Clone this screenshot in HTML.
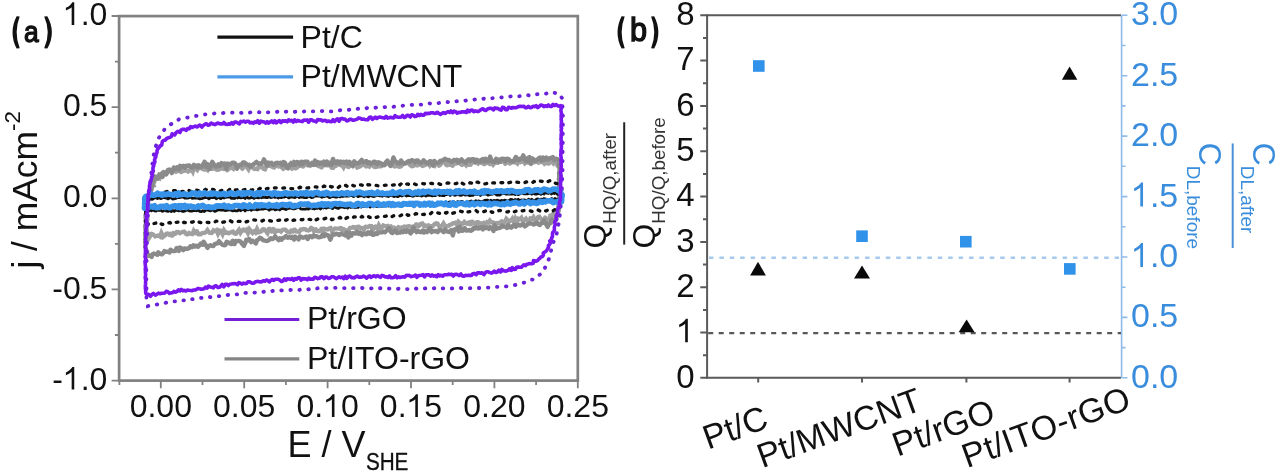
<!DOCTYPE html>
<html><head><meta charset="utf-8"><style>
html,body{margin:0;padding:0;background:#fff;}
svg{display:block;}
text{font-family:"Liberation Sans",sans-serif;fill:#111;}
.blue text{fill:#3a8ddc;}
.one{fill-opacity:0;}
</style></head><body>
<svg width="1280" height="472" viewBox="0 0 1280 472">
<defs><filter id="bl" x="-1%" y="-1%" width="102%" height="102%" color-interpolation-filters="sRGB"><feGaussianBlur stdDeviation="0.55"/></filter></defs>
<rect x="0" y="0" width="1280" height="472" fill="#fff"/>
<g filter="url(#bl)">
<!-- ===== Panel (a) ===== -->
<g id="curves">
<path d="M146.8,215.0 L146.6,213.5 L147.4,212.0 L146.7,210.5 L147.4,209.0 L147.3,207.5 L147.0,206.0 L147.7,204.5 L147.2,203.0 L147.8,201.5 L147.3,199.9 L147.6,198.3 L148.6,197.0 L149.7,195.7 L148.8,193.8 L149.4,192.4 L150.5,191.1 L151.5,189.7 L151.2,188.1 L151.5,186.5 L153.5,185.7 L152.1,183.2 L154.7,182.7 L154.1,180.6 L154.5,179.0 L155.1,177.0 L157.1,176.7 L159.3,178.0 L159.7,175.0 L161.7,175.9 L163.2,175.5 L164.2,173.9 L165.9,174.0 L166.5,171.5 L167.9,170.9 L169.7,170.8 L171.6,172.6 L173.0,171.3 L174.4,170.7 L176.0,171.7 L177.5,170.9 L178.9,170.1 L180.6,172.1 L182.1,171.5 L183.4,169.3 L185.0,170.6 L186.5,170.2 L188.2,171.5 L189.6,170.7 L190.9,168.6 L192.7,171.5 L193.8,167.5 L195.5,168.7 L197.1,170.0 L198.3,167.2 L200.0,168.5 L201.5,166.4 L203.0,169.2 L204.6,169.6 L206.1,168.7 L207.6,170.0 L209.1,167.5 L210.6,169.2 L212.1,168.7 L213.6,168.6 L215.1,168.0 L216.7,169.7 L218.2,170.1 L219.6,168.0 L221.2,168.8 L222.6,166.1 L224.2,168.9 L225.7,168.7 L227.3,170.1 L228.7,169.4 L230.2,167.0 L231.7,167.4 L233.3,168.6 L234.7,165.7 L236.3,167.6 L237.8,166.3 L239.3,166.1 L240.8,165.8 L242.3,168.9 L243.8,166.0 L245.3,166.5 L246.9,167.1 L248.4,169.2 L249.8,165.7 L251.4,167.3 L252.9,167.7 L254.5,169.1 L256.0,168.8 L257.5,169.0 L258.9,166.4 L260.5,167.0 L262.0,166.7 L263.5,169.0 L265.0,169.3 L266.5,165.7 L268.0,165.8 L269.5,166.0 L271.0,166.0 L272.6,167.0 L274.1,167.5 L275.6,166.0 L277.1,164.8 L278.6,166.6 L280.1,166.4 L281.6,167.2 L283.2,168.9 L284.7,167.7 L286.2,166.9 L287.7,167.3 L289.2,167.6 L290.7,164.8 L292.2,168.5 L293.7,167.9 L295.3,168.3 L296.8,167.9 L298.2,166.1 L299.8,166.1 L301.2,164.8 L302.8,167.1 L304.3,164.6 L305.8,164.6 L307.3,165.2 L308.8,164.9 L310.3,165.7 L311.8,164.4 L313.3,164.1 L314.9,164.8 L316.4,164.5 L317.9,165.6 L319.4,164.1 L321.0,167.8 L322.5,166.6 L323.9,164.6 L325.4,165.0 L327.0,165.4 L328.5,165.4 L330.0,164.3 L331.5,167.5 L333.1,168.1 L334.5,165.8 L336.0,165.8 L337.5,164.0 L339.0,164.1 L340.6,165.1 L342.1,164.7 L343.6,167.2 L345.1,164.2 L346.6,163.6 L348.2,167.6 L349.7,165.7 L351.1,164.0 L352.7,165.7 L354.1,163.4 L355.7,165.6 L357.3,167.6 L358.8,167.0 L360.3,166.3 L361.7,164.3 L363.3,164.8 L364.7,163.9 L366.3,166.5 L367.8,165.4 L369.3,166.5 L370.8,164.4 L372.3,163.9 L373.9,166.5 L375.4,167.2 L376.9,166.6 L378.4,166.4 L379.9,166.4 L381.4,166.0 L382.9,163.8 L384.4,165.0 L385.9,164.3 L387.4,162.8 L388.9,162.8 L390.5,163.8 L392.0,163.7 L393.5,165.6 L395.1,166.7 L396.5,164.5 L398.1,166.6 L399.6,166.8 L401.1,166.6 L402.6,164.0 L404.1,163.3 L405.6,163.3 L407.1,163.1 L408.6,163.2 L410.1,165.0 L411.7,166.2 L413.2,165.9 L414.7,164.2 L416.2,165.0 L417.7,165.6 L419.2,162.4 L420.7,164.9 L422.3,166.0 L423.8,165.4 L425.3,165.2 L426.8,164.0 L428.2,162.7 L429.8,165.3 L431.3,163.3 L432.8,165.3 L434.4,166.0 L435.8,163.5 L437.3,163.5 L438.9,165.8 L440.4,164.8 L441.9,162.3 L443.4,162.1 L444.9,162.2 L446.5,165.5 L448.0,165.0 L449.4,162.1 L451.0,165.1 L452.5,165.7 L454.0,164.3 L455.5,162.9 L457.0,163.7 L458.5,161.8 L460.0,161.3 L461.6,165.5 L463.0,164.0 L464.5,163.5 L466.1,165.2 L467.5,163.0 L469.1,164.9 L470.6,164.7 L472.1,161.9 L473.6,162.1 L475.1,162.2 L476.6,162.0 L478.1,163.4 L479.6,162.0 L481.1,162.7 L482.6,161.4 L484.2,164.7 L485.6,162.3 L487.2,162.7 L488.7,163.2 L490.2,164.6 L491.7,162.4 L493.2,164.6 L494.7,162.7 L496.2,162.8 L497.7,162.8 L499.2,160.5 L500.7,162.3 L502.2,161.2 L503.7,160.4 L505.3,163.8 L506.7,161.0 L508.3,162.3 L509.8,163.4 L511.3,162.6 L512.8,161.6 L514.3,162.4 L515.8,162.5 L517.3,163.5 L518.8,160.5 L520.3,162.5 L521.8,161.1 L523.3,161.2 L524.9,163.3 L526.4,162.1 L527.9,162.3 L529.4,163.2 L530.9,163.8 L532.4,161.7 L533.9,162.4 L535.4,161.9 L536.9,161.9 L538.4,162.7 L539.9,161.6 L541.4,161.9 L542.9,161.6 L544.5,163.7 L546.0,162.6 L547.5,163.3 L549.0,163.6 L550.5,160.5 L552.0,161.8 L553.5,163.5 L554.3,162.7 L556.7,162.4 L557.6,163.8 L557.6,165.7 L559.4,166.6 L559.8,168.2 L560.8,169.8 L559.8,171.5 L559.7,173.0 L559.5,174.5 L560.3,176.0 L559.7,177.5 L559.8,179.0 L560.3,180.5 L559.5,182.0 L559.4,183.5 L560.2,185.0 L559.4,186.5 L560.0,188.0 L559.9,189.5 L559.3,191.0 L559.5,192.5 L560.2,194.0 L559.9,195.5 L559.8,197.0 L560.0,198.5 L560.2,200.0 L559.8,201.6 L558.8,203.0 L559.7,204.8 L558.5,206.2 L558.3,207.8 L558.8,209.5 L557.9,210.9 L557.1,212.4 L557.0,214.0 L556.5,216.3 L553.2,213.9 L552.2,215.4 L550.5,215.6 L550.5,219.6 L548.6,219.1 L547.1,220.2 L545.4,217.1 L544.1,219.4 L542.6,220.1 L541.0,218.9 L539.4,216.9 L537.9,217.4 L536.6,219.9 L535.1,220.5 L533.4,217.2 L532.0,218.9 L530.4,218.4 L529.1,221.2 L527.6,221.4 L525.9,218.7 L524.5,220.0 L523.1,221.6 L521.4,217.9 L520.0,219.3 L518.4,218.7 L517.1,222.0 L515.4,218.7 L514.1,222.2 L512.4,218.8 L511.0,220.7 L509.5,221.3 L508.0,220.5 L506.4,218.9 L505.1,221.9 L503.6,222.6 L502.0,221.0 L500.6,222.3 L499.1,223.0 L497.6,222.9 L496.1,223.5 L494.6,222.9 L493.1,222.5 L491.6,222.6 L489.9,220.7 L488.6,222.9 L487.0,222.1 L485.6,223.6 L484.0,222.9 L482.6,224.5 L481.1,223.5 L479.6,224.7 L477.9,221.6 L476.5,222.5 L475.1,224.2 L473.5,223.0 L471.9,221.1 L470.6,224.9 L468.9,221.8 L467.5,223.6 L466.0,223.4 L464.4,222.0 L463.0,224.1 L461.5,223.7 L459.9,223.0 L458.4,221.8 L457.0,224.7 L455.4,222.6 L454.0,223.2 L452.5,223.6 L451.0,224.7 L449.5,225.0 L448.1,226.4 L446.6,226.1 L445.1,226.4 L443.5,223.5 L442.0,225.7 L440.6,226.2 L439.1,226.6 L437.4,223.4 L435.9,223.3 L434.5,224.2 L433.0,226.0 L431.5,226.3 L430.0,226.1 L428.5,225.4 L427.1,226.8 L425.5,225.6 L424.0,226.5 L422.4,223.5 L420.9,223.5 L419.5,225.4 L418.0,226.8 L416.4,223.7 L415.0,226.7 L413.5,226.5 L412.1,228.2 L410.5,226.6 L409.0,226.2 L407.5,226.2 L406.1,227.6 L404.5,226.3 L403.1,228.5 L401.5,227.5 L400.1,228.3 L398.5,227.0 L397.1,228.6 L395.6,228.8 L394.0,227.6 L392.5,228.0 L390.9,226.5 L389.4,226.8 L387.9,225.9 L386.4,226.4 L384.9,226.2 L383.3,225.5 L381.9,227.8 L380.4,228.1 L378.8,225.3 L377.4,229.0 L375.8,226.5 L374.3,227.0 L372.9,229.7 L371.2,226.2 L369.7,226.1 L368.3,227.3 L366.7,226.9 L365.2,226.6 L363.8,229.6 L362.2,228.0 L360.7,228.1 L359.2,226.8 L357.6,226.9 L356.1,226.9 L354.7,228.0 L353.1,226.8 L351.6,227.7 L350.1,227.8 L348.7,229.9 L347.2,230.8 L345.7,230.4 L344.1,229.5 L342.7,230.7 L341.0,227.5 L339.6,228.8 L338.0,228.6 L336.5,228.6 L335.0,228.5 L333.5,229.4 L332.1,231.6 L330.5,228.1 L329.0,228.4 L327.5,229.5 L326.0,229.4 L324.5,228.9 L323.0,231.5 L321.5,228.6 L320.0,230.8 L318.5,231.6 L317.0,230.8 L315.5,228.8 L314.0,231.1 L312.5,228.8 L311.0,227.8 L309.5,230.0 L308.0,230.5 L306.5,230.1 L305.0,229.2 L303.5,228.9 L302.0,229.6 L300.5,229.5 L299.0,232.0 L297.5,231.7 L296.0,231.3 L294.5,229.2 L293.0,231.1 L291.5,230.0 L290.0,232.5 L288.5,232.3 L287.0,231.4 L285.5,229.7 L284.0,229.6 L282.5,229.7 L281.0,231.5 L279.5,230.5 L278.0,230.8 L276.5,230.8 L275.0,232.4 L273.5,229.0 L272.0,232.1 L270.5,228.7 L269.0,228.9 L267.5,233.0 L266.0,231.1 L264.5,229.5 L263.0,228.9 L261.5,231.2 L260.0,232.0 L258.5,232.3 L257.0,229.1 L255.5,232.4 L254.0,230.8 L252.5,232.8 L251.0,231.1 L249.5,229.3 L248.0,232.9 L246.5,229.9 L245.0,231.3 L243.5,229.7 L242.0,230.6 L240.5,232.7 L239.0,229.8 L237.5,231.6 L236.1,233.7 L234.6,233.8 L233.0,231.7 L231.5,231.9 L230.0,232.6 L228.5,233.4 L227.0,232.5 L225.5,232.7 L224.0,230.4 L222.6,234.1 L221.0,230.9 L219.5,230.5 L218.0,233.7 L216.5,230.2 L215.0,231.2 L213.5,230.4 L212.0,233.1 L210.5,232.8 L209.0,232.7 L207.4,230.1 L206.0,232.0 L204.5,233.0 L203.0,232.7 L201.5,233.5 L200.1,234.5 L198.6,234.3 L196.8,231.2 L195.4,233.7 L193.7,231.0 L192.4,234.1 L190.8,234.1 L189.2,233.1 L187.8,234.6 L186.2,233.9 L184.5,231.5 L183.0,231.9 L181.5,232.3 L180.0,233.2 L178.3,232.0 L176.8,232.0 L175.4,233.8 L173.8,233.2 L172.4,236.2 L170.7,233.3 L169.2,234.6 L167.6,233.4 L166.1,234.0 L164.7,235.6 L163.2,236.8 L161.4,233.0 L160.1,236.6 L158.3,235.3 L156.7,236.0 L155.1,236.4 L153.2,234.6 L151.5,233.8 L149.6,236.9 L149.4,234.4 L147.5,233.7 L147.1,232.0 L146.9,230.5 L146.6,228.9 L146.6,227.4 L146.7,225.8 L147.4,224.3 L147.0,222.7 L146.7,221.2 L147.4,219.6 L147.5,218.1 L146.9,216.5 L146.6,215.0 Z" fill="none" stroke="#a0a0a0" stroke-width="4.4" stroke-dasharray="2.2 1.8" stroke-linecap="round" opacity="1"/>
<path d="M146.0,215.0 L146.3,213.5 L146.2,212.0 L146.6,210.5 L146.7,209.0 L146.6,207.5 L147.5,206.0 L147.5,204.5 L147.8,203.0 L148.2,201.5 L147.4,199.9 L148.2,198.5 L148.6,197.0 L149.6,195.6 L148.9,193.9 L150.3,192.6 L151.0,191.2 L150.0,189.3 L151.7,188.2 L151.5,186.4 L152.6,185.0 L152.1,183.1 L152.6,181.5 L154.2,180.3 L154.1,178.5 L154.0,176.1 L157.8,178.7 L158.6,176.8 L159.3,174.7 L162.4,176.9 L162.2,173.1 L163.4,172.0 L166.2,174.4 L167.0,172.8 L167.9,170.1 L169.4,169.4 L172.0,172.8 L172.9,170.1 L173.8,167.4 L176.0,169.2 L177.1,167.4 L179.3,169.3 L180.0,165.8 L182.0,166.7 L183.4,165.8 L185.1,167.6 L186.4,165.6 L187.9,165.8 L189.4,165.4 L191.1,167.2 L192.6,167.7 L193.9,164.9 L195.5,165.6 L197.1,167.4 L198.5,165.2 L200.1,167.2 L201.6,166.8 L203.1,165.2 L204.5,161.7 L206.2,166.8 L207.6,164.1 L209.4,169.0 L210.8,166.3 L212.2,161.8 L213.8,164.2 L215.4,166.6 L217.0,166.5 L218.4,164.3 L220.0,165.9 L221.5,163.1 L223.1,164.2 L224.6,163.5 L226.3,168.9 L227.7,163.6 L229.2,164.1 L230.8,164.2 L232.2,162.7 L233.8,162.7 L235.4,163.7 L237.1,168.7 L238.5,165.6 L240.0,164.8 L241.5,165.1 L243.0,162.4 L244.5,162.5 L246.0,163.8 L247.5,165.0 L249.0,165.1 L250.5,166.9 L252.0,165.1 L253.5,164.3 L255.0,163.2 L256.5,161.9 L258.0,163.5 L259.5,163.5 L261.0,163.7 L262.5,162.6 L264.0,159.4 L265.5,162.7 L267.0,165.5 L268.5,162.6 L270.0,163.6 L271.5,162.8 L273.0,164.7 L274.5,164.7 L276.0,162.9 L277.5,162.8 L279.0,163.4 L280.5,162.7 L282.0,165.1 L283.5,162.0 L285.0,162.7 L286.5,167.1 L288.0,168.3 L289.5,164.9 L291.0,163.4 L292.5,164.9 L294.0,161.9 L295.5,164.7 L297.0,162.0 L298.5,162.3 L300.0,164.5 L301.5,161.7 L303.0,164.2 L304.5,161.8 L306.0,161.8 L307.5,161.7 L309.0,164.9 L310.5,164.5 L312.0,162.9 L313.5,164.8 L315.0,160.5 L316.5,164.4 L318.0,162.1 L319.5,163.8 L321.0,162.5 L322.5,163.9 L324.0,161.6 L325.5,164.6 L327.0,161.5 L328.5,164.3 L330.0,162.8 L331.5,164.8 L333.0,158.9 L334.5,162.8 L336.0,163.0 L337.5,161.3 L339.1,163.6 L340.6,161.6 L342.1,162.5 L343.6,161.7 L345.1,163.0 L346.6,161.5 L348.2,164.0 L349.6,161.8 L351.2,164.5 L352.7,165.8 L354.2,161.3 L355.7,163.5 L357.2,163.3 L358.7,163.2 L360.2,161.6 L361.7,159.9 L363.3,162.3 L364.8,161.7 L366.3,161.1 L367.8,163.2 L369.3,162.2 L370.8,163.8 L372.3,163.1 L373.8,161.6 L375.3,162.0 L376.9,164.3 L378.4,162.3 L379.9,162.8 L381.4,163.6 L383.0,165.0 L384.5,165.1 L385.9,162.3 L387.4,160.6 L389.0,163.8 L390.5,166.0 L392.0,162.8 L393.4,157.5 L395.0,161.1 L396.5,162.1 L398.1,163.6 L399.6,163.1 L401.0,160.5 L402.6,163.0 L404.1,163.5 L405.6,163.1 L407.1,162.0 L408.6,160.9 L410.1,162.0 L411.6,160.2 L413.1,160.7 L414.7,162.5 L416.2,160.7 L417.7,160.4 L419.2,162.3 L420.7,163.1 L422.2,162.0 L423.7,160.3 L425.3,162.2 L426.8,162.7 L428.3,163.4 L429.8,161.1 L431.3,161.4 L432.9,165.5 L434.3,160.9 L435.9,162.9 L437.4,162.9 L438.9,162.4 L440.4,160.7 L441.9,161.1 L443.4,159.8 L444.9,158.8 L446.4,159.6 L447.9,159.9 L449.4,160.3 L451.0,161.6 L452.5,161.7 L454.0,159.9 L455.5,160.3 L457.0,159.7 L458.5,162.5 L460.0,160.8 L461.5,159.3 L463.0,161.3 L464.6,161.6 L466.1,162.6 L467.5,160.1 L469.0,159.3 L470.6,160.6 L472.1,159.3 L473.6,159.1 L475.1,162.4 L476.6,159.7 L478.1,160.7 L479.7,161.8 L481.1,160.0 L482.6,159.0 L484.2,161.6 L485.6,158.8 L487.2,161.4 L488.7,161.3 L490.1,156.5 L491.7,160.9 L493.3,161.8 L494.8,161.9 L496.2,158.7 L497.8,160.9 L499.3,161.7 L500.7,159.5 L502.2,158.6 L503.8,158.9 L505.3,161.3 L506.8,158.8 L508.3,158.9 L509.8,160.4 L511.4,161.2 L512.9,161.7 L514.3,160.0 L515.8,157.0 L517.4,159.6 L518.9,160.0 L520.4,158.7 L521.9,158.2 L523.3,155.4 L524.9,160.1 L526.5,161.3 L527.9,157.9 L529.4,157.1 L531.0,163.4 L532.4,158.4 L534.0,159.6 L535.5,160.8 L537.0,160.1 L538.5,158.4 L539.9,157.6 L541.7,160.7 L543.1,157.6 L544.8,159.5 L546.3,157.6 L548.0,159.4 L549.6,158.2 L551.2,158.1 L552.7,157.0 L554.5,160.0 L555.9,158.7 L557.4,159.2 L558.9,160.1 L559.3,161.9 L559.0,163.6 L558.6,165.2 L559.6,166.8 L559.5,168.4 L559.7,170.0 L559.7,171.5 L559.0,173.0 L559.2,174.5 L559.2,176.0 L559.5,177.5 L558.8,179.0 L559.5,180.5 L558.9,182.0 L558.7,183.5 L559.5,185.0 L559.5,186.5 L558.8,188.0 L559.2,189.5 L559.2,191.0 L559.1,192.5 L559.4,194.0 L558.9,195.5 L559.4,197.0 L558.8,198.5 L559.5,200.0 L558.9,201.5 L558.9,203.0 L559.0,204.5 L558.6,206.0 L559.0,207.5 L558.5,209.0 L558.6,210.5 L558.1,211.9 L557.7,213.7 L556.4,215.2 L556.4,217.2 L556.5,219.4 L554.9,220.5 L552.3,219.2 L551.4,220.9 L550.8,223.2 L549.0,223.7 L547.6,226.9 L545.9,224.0 L544.1,220.5 L542.7,222.8 L541.3,223.1 L539.9,225.0 L538.3,224.2 L536.7,222.5 L535.3,223.8 L533.8,224.5 L532.2,223.6 L530.7,223.5 L529.2,223.3 L527.7,224.2 L526.3,225.5 L524.9,226.4 L523.2,224.1 L521.7,224.7 L520.3,225.6 L518.7,225.0 L517.2,225.0 L515.9,226.8 L514.2,224.8 L512.8,226.0 L511.4,227.7 L509.9,227.4 L508.1,224.7 L506.9,227.9 L505.2,226.4 L503.7,226.6 L502.2,225.6 L500.8,227.3 L499.3,228.1 L497.8,227.6 L496.4,228.7 L494.5,225.0 L493.5,231.0 L491.8,228.0 L490.2,227.1 L488.8,228.8 L487.2,227.2 L485.7,228.1 L484.1,227.2 L482.8,229.4 L481.1,227.5 L479.7,228.2 L478.2,228.6 L476.6,227.2 L475.2,228.5 L473.6,228.0 L472.3,230.0 L470.8,230.7 L469.3,230.0 L467.8,230.5 L466.3,230.6 L464.6,228.0 L463.2,230.5 L461.8,230.8 L459.9,226.8 L458.8,231.6 L457.1,227.9 L455.7,229.5 L454.2,229.4 L452.8,235.4 L451.2,230.1 L449.7,232.1 L448.2,231.7 L446.7,231.3 L445.1,229.4 L443.7,232.1 L442.1,230.5 L440.6,230.3 L439.1,229.9 L437.7,232.1 L436.1,230.9 L434.6,231.3 L433.1,230.9 L431.6,232.1 L430.0,228.2 L428.6,229.8 L427.1,232.2 L425.6,231.0 L424.1,232.6 L422.6,230.7 L421.1,232.2 L419.6,231.8 L418.0,230.9 L416.6,232.1 L415.0,230.3 L413.4,227.5 L412.0,231.7 L410.6,233.4 L409.0,231.3 L407.5,230.5 L406.0,231.9 L404.5,230.9 L403.0,232.2 L401.5,231.8 L400.0,232.7 L398.5,232.4 L397.0,233.0 L395.4,230.5 L393.9,231.2 L392.4,233.0 L390.9,232.1 L389.2,228.4 L387.7,229.4 L386.2,231.0 L384.8,232.3 L383.2,231.7 L381.7,232.4 L380.2,232.4 L378.7,232.6 L377.2,234.0 L375.7,233.2 L374.2,234.5 L372.7,234.8 L371.0,231.8 L369.6,233.8 L368.0,232.3 L366.6,234.3 L365.0,233.8 L363.5,233.8 L362.0,235.1 L360.4,232.5 L358.9,234.0 L357.3,231.2 L355.9,233.6 L354.3,233.4 L352.8,233.1 L351.4,235.6 L349.7,232.7 L348.4,237.5 L346.7,232.5 L345.3,235.4 L343.7,234.5 L342.2,234.2 L340.6,233.7 L339.2,235.1 L337.6,234.0 L336.0,233.8 L334.6,234.6 L333.0,234.3 L331.6,236.4 L330.3,239.7 L328.5,235.5 L327.0,234.9 L325.4,234.2 L324.1,236.2 L322.4,234.8 L321.1,236.9 L319.6,237.2 L318.1,237.2 L316.5,236.2 L315.0,236.4 L313.4,235.5 L312.1,237.3 L310.5,236.1 L309.0,236.4 L307.7,239.0 L306.0,236.6 L304.5,237.4 L303.0,237.7 L301.5,237.0 L299.9,236.4 L298.6,239.4 L296.9,238.0 L295.3,236.7 L294.0,239.6 L292.2,236.9 L290.8,237.9 L289.2,237.0 L287.7,237.7 L286.0,236.0 L284.6,237.5 L283.0,237.8 L281.6,239.7 L280.0,238.3 L278.6,240.1 L276.9,238.2 L275.2,236.4 L273.8,238.3 L272.3,239.1 L270.7,238.2 L269.3,239.7 L267.8,240.9 L266.3,241.0 L264.7,240.5 L263.2,240.4 L261.5,238.5 L259.9,237.8 L258.5,239.4 L257.0,240.2 L255.8,243.5 L254.1,241.8 L252.4,240.7 L251.1,242.1 L249.2,239.0 L247.8,240.4 L246.3,239.8 L245.1,243.3 L243.8,245.9 L242.0,243.6 L240.3,241.3 L238.8,241.0 L237.2,241.1 L235.7,241.0 L234.5,244.1 L232.6,240.8 L231.4,244.1 L229.9,243.5 L228.2,242.4 L226.6,241.8 L225.4,245.1 L223.9,245.3 L222.3,244.7 L220.7,243.1 L219.0,241.2 L217.6,243.3 L216.2,243.7 L214.7,244.2 L213.4,246.1 L211.8,245.8 L210.2,245.2 L208.8,246.2 L207.5,247.8 L205.5,244.6 L203.6,241.7 L202.5,244.7 L200.8,243.5 L199.5,245.2 L198.1,246.8 L196.4,245.7 L195.0,246.6 L193.3,245.3 L192.0,247.2 L190.4,246.3 L189.1,248.1 L187.6,248.8 L186.1,248.8 L184.5,248.4 L183.2,250.1 L181.4,248.3 L179.8,247.5 L178.8,251.0 L176.6,248.0 L175.6,250.8 L174.0,251.1 L172.4,250.8 L170.5,249.7 L169.5,252.4 L167.7,251.7 L166.1,251.7 L164.4,251.1 L163.2,253.1 L161.9,254.3 L160.2,253.8 L158.2,252.3 L157.4,254.8 L155.6,254.0 L153.8,253.5 L152.5,254.4 L151.7,256.9 L149.8,255.7 L147.8,254.5 L147.6,256.1 L146.7,255.2 L145.9,253.6 L147.1,251.5 L146.0,249.9 L145.8,248.5 L145.2,246.9 L145.4,245.4 L145.4,243.8 L145.1,242.3 L145.5,240.8 L145.2,239.2 L145.8,237.7 L145.3,236.2 L145.4,234.6 L145.1,233.1 L145.9,231.5 L145.5,230.0 L145.5,228.5 L145.3,227.0 L145.3,225.5 L145.9,224.0 L146.2,222.5 L145.6,221.0 L146.0,219.5 L145.6,218.0 L145.7,216.5 L145.5,215.0 Z" fill="none" stroke="#8a8a8a" stroke-width="4.4" stroke-linejoin="round" opacity="1"/>
<path d="M145.5,222.0 L145.6,220.0 L145.6,218.0 L145.6,216.0 L145.8,214.0 L145.7,212.0 L146.6,210.0 L147.3,208.1 L147.2,205.9 L148.1,204.0 L149.7,202.4 L150.4,200.1 L152.6,198.9 L154.1,197.2 L154.9,194.8 L156.9,194.0 L159.3,194.1 L161.0,192.6 L162.9,191.6 L165.2,191.9 L167.0,191.6 L169.1,190.6 L171.1,190.3 L173.1,190.5 L175.2,190.7 L177.2,191.9 L179.2,191.5 L181.3,191.7 L183.3,191.4 L185.3,191.5 L187.3,189.7 L189.4,190.7 L191.4,191.6 L193.5,191.5 L195.5,190.0 L197.5,190.3 L199.5,190.8 L201.6,190.1 L203.6,190.5 L205.6,189.4 L207.7,190.2 L209.7,190.3 L211.7,189.2 L213.7,189.5 L215.8,191.3 L217.8,190.8 L219.9,191.1 L221.9,190.4 L223.9,190.8 L226.0,190.9 L228.0,190.9 L230.0,189.0 L232.0,190.3 L234.0,189.4 L236.0,190.2 L238.0,189.3 L240.0,189.8 L242.0,190.6 L244.0,189.8 L246.0,189.0 L248.0,189.5 L250.0,189.3 L252.0,190.3 L254.0,188.8 L256.0,188.8 L258.0,189.5 L260.0,188.3 L262.0,189.2 L264.0,190.0 L266.0,189.0 L268.0,188.4 L270.0,188.7 L272.0,188.8 L274.0,187.9 L276.0,187.8 L278.0,187.7 L280.0,188.0 L282.0,188.2 L284.0,187.9 L286.0,187.8 L288.0,187.4 L290.0,188.3 L292.0,188.9 L294.0,188.3 L296.0,188.2 L298.0,188.3 L300.0,187.2 L302.0,188.3 L304.0,187.7 L306.0,187.8 L308.0,187.9 L310.0,187.5 L312.0,187.1 L314.0,186.9 L316.0,186.8 L318.0,187.4 L320.0,187.0 L322.0,187.4 L324.0,186.1 L326.0,186.8 L328.0,187.9 L330.0,186.4 L332.0,187.0 L334.0,186.8 L336.0,186.3 L338.0,187.7 L340.0,186.1 L342.0,187.1 L344.0,185.7 L346.0,185.4 L348.0,187.1 L350.0,186.0 L352.0,185.1 L354.0,185.8 L356.0,185.8 L358.0,186.4 L360.0,184.9 L362.0,185.1 L364.0,186.6 L366.0,186.0 L368.0,184.7 L370.0,185.0 L372.0,184.9 L374.0,185.6 L376.0,185.3 L378.0,185.8 L380.0,185.6 L382.0,184.9 L384.0,185.3 L386.0,185.2 L388.0,185.2 L390.0,184.5 L392.0,185.1 L394.0,184.8 L396.0,185.2 L398.0,183.4 L400.0,184.9 L402.0,183.0 L404.0,184.6 L406.0,184.2 L408.0,184.0 L410.0,185.0 L412.0,184.1 L414.0,183.8 L416.0,184.6 L418.0,184.7 L420.0,184.1 L422.0,183.6 L424.0,183.8 L426.0,183.7 L428.0,184.3 L430.0,183.3 L432.0,183.5 L434.0,183.9 L436.0,183.5 L438.0,183.3 L440.0,184.3 L442.0,184.4 L444.0,183.7 L446.0,183.5 L448.0,182.9 L450.0,183.2 L452.0,182.8 L454.0,183.7 L456.0,183.7 L458.0,182.6 L460.0,184.4 L462.0,183.1 L464.0,184.2 L466.0,184.2 L468.0,184.4 L470.0,182.7 L472.0,183.2 L474.0,184.2 L476.0,182.2 L478.0,182.2 L480.0,183.3 L482.0,183.1 L484.0,184.0 L486.0,183.6 L488.0,183.1 L490.0,184.0 L492.0,182.9 L494.0,182.9 L496.0,183.2 L498.0,182.5 L500.0,182.4 L502.0,182.8 L504.0,182.3 L506.0,183.5 L508.0,182.9 L510.0,182.5 L512.0,181.5 L514.0,182.1 L516.0,182.1 L518.0,182.4 L520.0,182.4 L522.0,183.0 L524.0,183.1 L526.0,182.0 L528.0,181.9 L530.0,182.2 L532.0,183.0 L534.0,181.5 L536.0,181.9 L538.0,182.5 L540.0,181.0 L542.0,181.3 L544.0,182.7 L546.0,182.3 L548.0,181.6 L550.1,180.6 L551.8,182.7 L553.9,182.7 L555.9,183.3 L557.4,183.7 L558.7,185.6 L560.4,187.6 L561.8,189.9 L561.7,192.0 L561.7,194.0 L561.8,196.0 L562.1,198.0 L562.2,200.0 L561.2,202.3 L560.6,204.6 L560.2,207.1 L557.0,207.7 L554.9,209.7 L552.6,211.2 L550.0,210.7 L548.0,209.9 L546.0,211.0 L544.0,210.2 L542.0,211.7 L540.0,211.1 L538.0,209.9 L536.0,210.5 L534.0,210.3 L532.0,211.4 L530.0,210.8 L528.0,210.7 L526.0,211.3 L524.0,210.5 L522.0,210.8 L520.0,209.8 L518.0,210.7 L516.0,211.1 L514.0,211.8 L512.0,211.7 L510.0,210.4 L508.0,211.9 L506.0,211.9 L504.0,211.8 L502.0,211.1 L500.0,210.4 L498.0,210.9 L496.0,210.5 L494.0,212.2 L492.0,212.3 L490.0,210.7 L488.0,211.7 L486.0,210.8 L484.0,211.6 L482.0,212.1 L480.0,211.9 L478.0,212.3 L476.0,210.5 L474.0,211.3 L472.0,211.8 L470.0,211.6 L468.0,211.9 L466.1,212.7 L464.0,211.0 L462.0,211.7 L459.9,211.0 L458.0,212.2 L456.0,212.0 L454.0,212.9 L452.1,213.4 L450.0,211.6 L448.0,211.9 L446.0,213.1 L444.0,212.0 L442.0,212.2 L440.0,213.5 L438.0,212.9 L435.9,212.2 L434.0,213.4 L431.9,212.5 L430.0,214.1 L428.0,213.9 L426.0,213.3 L424.0,214.5 L422.0,214.4 L420.0,213.2 L418.0,214.2 L416.0,213.6 L414.0,214.9 L412.0,215.2 L410.0,214.9 L408.0,215.4 L405.9,213.8 L404.0,215.4 L402.0,214.9 L400.0,215.9 L398.0,215.1 L396.0,215.6 L394.0,215.6 L392.1,216.5 L390.0,216.5 L388.0,215.0 L386.0,216.2 L384.0,216.5 L382.0,216.8 L380.0,216.7 L378.0,216.9 L376.1,217.4 L374.0,216.2 L372.0,217.0 L370.0,217.5 L368.0,216.4 L366.0,217.8 L364.0,217.6 L362.0,216.4 L360.0,218.1 L358.0,217.5 L356.0,216.8 L354.0,216.9 L352.0,218.5 L350.0,218.1 L348.0,217.4 L346.0,218.3 L343.9,217.1 L342.0,218.9 L339.9,217.4 L338.0,218.5 L336.0,219.2 L334.0,218.8 L332.0,219.6 L330.0,218.4 L328.0,219.5 L326.0,218.1 L324.0,218.9 L322.0,219.4 L320.0,219.7 L318.0,218.9 L316.0,219.9 L314.0,218.5 L312.0,220.2 L310.0,219.3 L308.0,219.3 L306.0,220.0 L304.0,218.9 L302.0,219.8 L300.0,219.3 L298.0,219.5 L296.0,220.1 L294.0,220.0 L292.0,220.7 L290.0,220.6 L288.0,219.1 L286.0,220.3 L284.0,219.6 L282.0,220.9 L280.0,220.0 L278.0,220.4 L276.0,220.2 L274.0,220.7 L272.0,221.2 L270.0,220.7 L268.0,221.0 L266.0,221.2 L264.0,220.0 L262.0,221.0 L260.0,220.8 L258.0,219.7 L256.0,220.1 L254.0,219.9 L252.0,220.0 L250.0,221.6 L248.0,221.3 L246.0,221.9 L244.0,220.6 L242.0,220.6 L240.0,221.4 L238.0,221.3 L236.0,220.8 L234.0,220.8 L232.0,221.8 L230.0,220.5 L228.0,221.7 L226.0,221.1 L224.0,222.1 L222.0,222.3 L220.0,220.6 L218.0,221.1 L216.0,221.2 L214.0,222.7 L212.0,222.7 L210.0,222.5 L208.0,222.5 L206.0,222.3 L204.0,222.2 L202.0,223.0 L200.0,222.4 L198.0,221.8 L196.0,222.9 L194.0,221.5 L192.0,222.2 L190.0,222.0 L188.0,223.1 L186.0,222.8 L184.0,222.3 L182.0,223.1 L180.0,224.0 L178.0,222.2 L176.0,222.4 L174.0,223.6 L172.0,224.2 L170.0,222.5 L168.0,223.2 L166.0,224.5 L164.0,224.1 L162.0,224.5 L160.0,223.1 L158.0,224.5 L156.0,223.0 L154.0,223.5 L152.0,225.0 L150.0,223.8 L148.0,224.1 L146.3,223.1 L145.8,221.9 Z" fill="none" stroke="#111" stroke-width="3.3" stroke-dasharray="1.8 6.6" stroke-linecap="round" opacity="1"/>
<path d="M148.9,200.0 L149.0,198.0 L149.4,196.0 L149.4,194.0 L149.7,192.0 L149.8,190.0 L150.0,188.0 L150.1,186.0 L150.2,184.0 L150.3,182.0 L150.4,180.0 L150.8,178.0 L150.9,176.0 L151.2,174.0 L151.5,172.0 L151.5,170.0 L151.9,168.0 L152.0,165.7 L152.5,163.5 L152.8,161.2 L153.0,158.9 L153.4,156.7 L153.8,154.4 L154.4,152.2 L154.9,150.1 L155.5,147.9 L156.0,145.7 L156.7,143.5 L157.4,141.4 L157.9,139.1 L159.2,137.3 L160.4,135.4 L161.9,133.7 L163.1,131.9 L164.2,129.9 L165.5,128.0 L167.5,126.6 L169.4,125.1 L171.5,123.9 L173.1,122.1 L175.0,121.2 L177.1,120.8 L178.8,119.4 L180.8,118.8 L182.9,118.2 L185.1,118.2 L187.2,117.6 L189.3,117.3 L191.6,116.4 L194.0,116.4 L196.3,115.9 L198.6,115.4 L200.7,115.4 L202.9,115.3 L204.9,114.5 L207.1,114.4 L209.6,114.2 L212.1,113.8 L214.7,113.4 L217.0,113.3 L219.3,113.1 L221.7,113.3 L224.0,112.9 L226.0,112.6 L228.0,112.7 L230.0,112.8 L232.0,112.7 L234.0,112.5 L236.0,112.4 L238.0,112.3 L240.0,113.0 L242.0,112.8 L244.0,112.2 L246.0,112.7 L248.0,112.9 L250.0,112.5 L252.0,112.1 L254.0,112.4 L256.0,112.3 L258.0,112.1 L260.0,112.4 L262.0,111.9 L264.0,112.6 L266.0,112.3 L268.0,112.3 L270.0,112.5 L272.0,112.3 L274.0,111.9 L276.0,111.9 L278.0,111.7 L280.0,111.6 L282.0,112.2 L284.0,112.2 L286.0,111.7 L288.0,111.6 L290.0,112.0 L292.0,112.1 L294.0,112.1 L296.0,111.5 L298.0,111.9 L300.0,111.9 L302.0,111.8 L304.0,111.5 L306.0,111.3 L308.0,111.8 L310.0,111.4 L312.0,111.4 L314.0,111.5 L316.0,111.3 L318.0,111.7 L320.0,111.2 L322.0,111.0 L324.0,111.3 L326.0,111.4 L328.0,111.5 L330.0,111.4 L332.1,111.4 L334.1,111.3 L336.2,110.7 L338.2,110.6 L340.2,110.2 L342.3,110.1 L344.4,110.2 L346.4,109.7 L348.5,110.0 L350.5,109.4 L352.6,109.5 L354.6,109.8 L356.6,108.9 L358.7,108.7 L360.8,108.9 L362.8,108.5 L364.9,108.8 L366.9,108.1 L369.0,108.6 L371.1,108.5 L373.1,108.2 L375.1,107.8 L377.2,107.5 L379.2,107.7 L381.3,107.4 L383.3,107.2 L385.4,107.0 L387.4,106.9 L389.5,106.9 L391.6,106.9 L393.6,106.8 L395.6,106.1 L397.7,106.0 L399.7,105.9 L401.8,105.9 L403.8,105.5 L405.9,105.2 L407.9,105.0 L410.0,105.0 L412.0,104.9 L414.1,105.2 L416.2,104.9 L418.2,104.7 L420.3,104.7 L422.3,104.5 L424.3,104.0 L426.4,104.0 L428.4,103.2 L430.5,103.6 L432.5,103.3 L434.6,102.9 L436.6,103.0 L438.7,103.1 L440.7,102.6 L442.8,102.5 L444.8,102.1 L446.8,101.9 L448.9,102.2 L450.9,101.3 L453.0,101.3 L455.1,101.5 L457.1,101.2 L459.1,100.7 L461.2,101.0 L463.2,100.6 L465.3,100.6 L467.4,100.3 L469.4,100.2 L471.5,100.1 L473.5,99.7 L475.5,99.4 L477.6,99.2 L479.7,99.6 L481.7,99.2 L483.7,98.7 L485.8,99.1 L487.9,98.4 L489.9,98.1 L492.0,98.3 L494.0,97.9 L496.1,97.9 L498.1,97.8 L500.2,97.4 L502.2,97.5 L504.3,97.0 L506.3,97.1 L508.4,97.0 L510.4,96.4 L512.5,96.5 L514.5,96.1 L516.6,96.2 L518.7,96.4 L520.7,95.9 L522.8,95.9 L525.0,95.7 L527.0,95.0 L529.2,95.4 L531.3,95.0 L533.4,94.3 L535.6,94.7 L537.7,94.1 L539.8,93.7 L541.9,94.1 L544.0,93.6 L546.2,93.6 L548.2,92.8 L550.4,93.1 L552.5,92.3 L554.7,92.9 L556.9,93.5 L559.2,93.7 L560.1,95.7 L561.4,97.2 L562.5,99.0 L562.4,101.1 L562.5,103.2 L562.5,105.3 L562.6,107.4 L562.6,109.5 L562.7,111.6 L562.7,113.7 L562.8,115.8 L563.0,117.9 L562.9,120.0 L563.0,122.0 L562.9,124.0 L562.9,126.0 L562.9,128.0 L563.0,130.0 L562.9,132.0 L562.8,134.0 L562.7,136.0 L562.8,138.0 L562.9,140.0 L562.8,142.0 L562.8,144.0 L562.7,146.0 L562.7,148.0 L562.8,150.0 L562.6,152.0 L562.6,154.0 L562.7,156.0 L562.7,158.0 L562.6,160.0 L562.5,162.0 L562.5,164.0 L562.6,166.0 L562.6,168.0 L562.6,170.0 L562.4,172.0 L562.4,174.0 L562.3,176.0 L562.3,178.0 L562.1,180.0 L562.1,182.0 L562.1,184.0 L561.9,186.0 L561.9,188.0 L561.8,190.0 L561.7,192.0 L561.6,194.0 L561.7,196.0 L561.6,198.0 L561.6,200.0 L561.3,202.0 L560.9,204.0 L560.7,206.0 L560.7,208.0 L560.4,210.0 L560.1,212.0 L559.9,214.0 L559.7,216.0 L559.5,218.0 L559.3,220.0 L558.9,222.0 L558.6,224.0 L558.0,226.0 L557.7,228.0 L557.5,230.0 L557.0,232.0 L556.6,234.0 L555.5,236.0 L554.9,238.1 L554.3,240.2 L553.4,242.2 L552.8,244.3 L552.2,246.3 L551.6,248.3 L551.1,250.4 L550.6,252.4 L550.2,254.5 L549.4,256.5 L549.0,258.5 L548.3,260.5 L547.2,262.3 L546.2,264.2 L545.7,266.2 L544.8,268.1 L543.8,270.0 L543.1,272.0 L541.3,273.5 L539.4,274.9 L537.7,276.5 L535.8,277.8 L534.0,279.3 L531.8,279.7 L529.8,280.4 L527.9,281.9 L525.7,282.2 L523.6,282.8 L521.4,283.3 L519.2,283.9 L517.0,284.5 L514.8,285.1 L512.6,285.7 L510.4,286.1 L508.1,286.1 L505.9,286.4 L503.8,286.4 L501.7,286.8 L499.6,287.2 L497.5,286.9 L495.3,287.0 L493.2,287.3 L491.1,287.3 L489.0,287.6 L486.9,287.6 L484.8,287.8 L482.7,288.2 L480.7,288.0 L478.7,288.0 L476.7,287.5 L474.7,287.9 L472.6,288.1 L470.6,288.2 L468.6,288.2 L466.6,288.2 L464.6,288.4 L462.6,288.5 L460.6,287.9 L458.6,288.2 L456.6,288.3 L454.6,288.2 L452.5,288.4 L450.5,288.6 L448.5,288.7 L446.5,288.5 L444.5,288.6 L442.5,288.3 L440.5,288.4 L438.5,288.1 L436.5,288.7 L434.4,288.2 L432.4,288.5 L430.4,289.0 L428.4,288.9 L426.4,288.6 L424.4,288.3 L422.4,288.9 L420.4,288.6 L418.4,288.9 L416.3,288.5 L414.3,289.2 L412.3,288.9 L410.3,288.6 L408.3,289.1 L406.3,289.2 L404.3,289.3 L402.3,289.2 L400.3,289.1 L398.3,288.7 L396.3,289.1 L394.3,288.9 L392.2,289.0 L390.2,288.7 L388.2,288.4 L386.2,288.6 L384.2,288.9 L382.2,288.4 L380.2,288.2 L378.2,288.5 L376.2,288.9 L374.2,288.2 L372.2,288.2 L370.2,288.6 L368.1,288.7 L366.1,288.6 L364.1,288.3 L362.1,288.0 L360.1,288.2 L358.1,287.9 L356.1,288.4 L354.1,288.3 L352.1,287.9 L350.1,288.0 L348.1,288.2 L346.1,287.9 L344.1,288.2 L342.0,288.3 L340.0,288.0 L338.0,288.3 L336.0,287.8 L334.0,288.0 L332.0,287.8 L330.0,287.7 L328.0,288.1 L326.0,288.1 L323.9,288.5 L321.9,287.9 L319.9,288.3 L317.8,288.1 L315.8,289.0 L313.8,288.6 L311.8,288.7 L309.8,289.1 L307.7,289.4 L305.7,289.5 L303.7,289.6 L301.6,289.2 L299.6,289.9 L297.6,289.4 L295.6,289.8 L293.5,289.9 L291.5,289.9 L289.5,290.1 L287.5,290.1 L285.4,290.3 L283.4,290.6 L281.4,290.4 L279.4,290.9 L277.3,290.7 L275.3,290.7 L273.3,290.8 L271.3,291.3 L269.2,291.1 L267.2,291.0 L265.2,291.6 L263.2,291.8 L261.1,291.7 L259.1,291.5 L257.1,292.3 L255.1,292.6 L253.1,292.4 L251.0,292.5 L249.0,292.6 L247.0,293.1 L244.9,292.8 L243.0,293.6 L240.9,293.4 L239.0,294.2 L236.9,294.4 L234.9,294.5 L232.9,294.8 L230.9,294.7 L228.8,294.8 L226.8,295.3 L224.8,294.9 L222.8,295.6 L220.8,296.0 L218.8,296.1 L216.7,295.9 L214.7,296.0 L212.7,296.8 L210.7,297.2 L208.6,296.8 L206.7,297.5 L204.6,297.2 L202.6,297.8 L200.6,298.0 L198.6,298.4 L196.5,298.3 L194.6,298.9 L192.6,299.2 L190.5,299.0 L188.6,299.9 L186.5,299.6 L184.5,300.4 L182.5,300.2 L180.5,300.7 L178.4,300.6 L176.5,301.4 L174.4,301.3 L172.4,301.7 L170.3,301.6 L168.3,302.0 L166.3,302.6 L164.3,303.3 L162.3,303.6 L160.2,304.0 L158.2,304.2 L156.2,304.7 L154.1,305.1 L152.0,305.1 L150.0,305.5 L147.9,306.1 L147.7,304.0 L146.9,302.0 L146.5,300.0 L146.4,298.0 L146.5,296.0 L146.5,294.0 L146.4,292.0 L146.5,290.0 L146.5,288.0 L146.4,286.0 L146.4,284.0 L146.4,282.0 L146.4,280.0 L146.3,278.0 L146.4,276.0 L146.3,274.0 L146.3,272.0 L146.3,270.0 L146.4,268.0 L146.3,266.0 L146.5,264.0 L146.5,262.0 L146.6,260.0 L146.7,258.0 L146.6,256.0 L146.8,254.0 L146.8,252.0 L146.7,250.0 L146.7,248.0 L146.8,246.0 L147.0,244.0 L146.8,242.0 L147.1,240.0 L147.0,237.9 L147.2,235.8 L147.2,233.7 L147.3,231.7 L147.5,229.6 L147.4,227.5 L147.5,225.4 L147.8,223.3 L147.8,221.3 L147.9,219.2 L148.0,217.1 L147.9,215.0 L148.1,212.9 L148.4,210.7 L148.5,208.6 L148.5,206.4 L148.7,204.3 L148.8,202.1 L149.0,200.0 Z" fill="none" stroke="#6a22d8" stroke-width="3.8" stroke-dasharray="0.5 8.6" stroke-linecap="round" opacity="1"/>
<path d="M144.7,204.9 L145.1,202.9 L146.5,201.3 L147.2,199.8 L149.0,199.7 L149.8,197.5 L151.5,198.2 L153.0,197.5 L154.5,198.0 L156.0,197.5 L157.5,198.5 L159.1,197.4 L160.6,198.6 L162.1,198.1 L163.6,197.3 L165.1,197.8 L166.6,198.1 L168.1,198.9 L169.6,197.8 L171.1,197.5 L172.6,199.0 L174.2,198.8 L175.7,198.5 L177.2,197.6 L178.7,197.4 L180.2,197.5 L181.7,197.1 L183.2,197.1 L184.7,198.0 L186.2,197.8 L187.7,198.1 L189.2,197.7 L190.7,197.0 L192.3,198.3 L193.8,198.2 L195.3,198.0 L196.8,198.0 L198.3,198.3 L199.8,198.9 L201.3,198.6 L202.8,198.3 L204.3,197.7 L205.8,197.5 L207.4,197.7 L208.9,198.8 L210.4,197.6 L211.9,197.6 L213.4,197.6 L214.9,197.1 L216.4,198.8 L217.9,196.8 L219.4,198.0 L220.9,198.6 L222.4,197.3 L224.0,198.0 L225.5,197.5 L227.0,197.2 L228.5,197.1 L230.0,196.9 L231.5,198.4 L233.0,198.2 L234.5,198.5 L236.0,196.7 L237.5,198.0 L239.0,197.3 L240.6,197.9 L242.1,197.7 L243.6,197.2 L245.1,198.5 L246.6,196.5 L248.1,198.0 L249.6,198.2 L251.1,197.5 L252.6,197.6 L254.1,198.4 L255.6,196.9 L257.1,197.7 L258.6,197.9 L260.1,197.1 L261.6,197.8 L263.1,197.1 L264.7,197.4 L266.2,197.5 L267.7,197.6 L269.2,196.9 L270.7,197.5 L272.2,197.3 L273.7,196.7 L275.2,197.4 L276.7,196.7 L278.2,198.0 L279.7,197.1 L281.2,197.6 L282.7,197.2 L284.2,197.1 L285.7,196.5 L287.3,196.4 L288.8,197.9 L290.3,197.1 L291.8,197.1 L293.3,197.1 L294.8,197.6 L296.3,196.5 L297.8,196.3 L299.3,197.6 L300.8,196.8 L302.3,197.2 L303.8,197.5 L305.4,197.7 L306.9,197.6 L308.3,195.9 L309.9,196.6 L311.4,197.5 L312.9,197.4 L314.4,196.0 L315.9,196.1 L317.4,196.2 L318.9,195.9 L320.4,196.4 L321.9,197.3 L323.4,196.7 L324.9,196.6 L326.4,195.8 L327.9,196.4 L329.5,197.6 L331.0,197.0 L332.5,196.5 L334.0,196.5 L335.5,197.1 L337.0,197.1 L338.5,195.8 L340.0,196.9 L341.5,196.2 L343.0,196.5 L344.5,195.9 L346.0,196.2 L347.5,196.1 L349.1,196.1 L350.6,195.4 L352.1,195.7 L353.6,196.5 L355.1,195.4 L356.6,195.6 L358.1,196.7 L359.6,195.8 L361.1,195.9 L362.6,195.7 L364.2,196.8 L365.6,195.3 L367.2,196.4 L368.7,196.8 L370.2,195.5 L371.7,195.9 L373.2,196.6 L374.7,196.3 L376.2,195.7 L377.7,195.1 L379.2,195.8 L380.8,195.7 L382.3,196.3 L383.8,195.5 L385.3,195.7 L386.8,196.2 L388.3,196.5 L389.8,195.5 L391.3,195.6 L392.8,195.9 L394.4,196.6 L395.8,195.1 L397.4,196.7 L398.9,196.1 L400.4,195.4 L401.9,196.0 L403.4,195.3 L404.9,194.7 L406.4,196.1 L407.9,195.3 L409.4,195.6 L410.9,195.5 L412.5,196.3 L414.0,196.0 L415.5,194.5 L417.0,195.6 L418.5,195.3 L420.0,195.3 L421.5,196.1 L423.0,195.2 L424.5,195.3 L426.0,196.1 L427.5,195.2 L429.1,195.3 L430.6,195.3 L432.1,195.9 L433.6,195.6 L435.1,195.7 L436.6,195.0 L438.1,194.2 L439.6,195.5 L441.1,195.2 L442.6,195.6 L444.2,195.6 L445.6,194.3 L447.2,194.5 L448.7,194.2 L450.2,195.6 L451.7,194.2 L453.2,194.1 L454.7,195.4 L456.2,195.0 L457.7,194.0 L459.3,195.2 L460.8,195.3 L462.3,194.8 L463.8,193.9 L465.3,195.2 L466.8,194.6 L468.3,194.9 L469.8,195.7 L471.3,195.3 L472.8,195.4 L474.3,193.9 L475.8,194.3 L477.4,194.6 L478.9,193.6 L480.4,195.5 L481.9,194.1 L483.4,194.1 L484.9,194.1 L486.4,194.0 L487.9,195.2 L489.4,194.6 L490.9,194.4 L492.5,194.2 L493.9,193.5 L495.5,194.0 L497.0,195.1 L498.5,194.9 L500.0,195.0 L501.5,193.8 L503.0,193.6 L504.5,193.3 L506.1,194.2 L507.6,193.9 L509.1,194.0 L510.6,194.0 L512.1,194.2 L513.6,193.7 L515.2,194.6 L516.7,193.3 L518.2,194.7 L519.7,194.0 L521.2,192.9 L522.7,193.4 L524.2,193.8 L525.8,193.6 L527.3,193.8 L528.8,193.3 L530.3,193.2 L531.8,194.2 L533.3,193.1 L534.9,194.0 L536.4,194.1 L537.9,193.7 L539.4,193.3 L540.9,194.3 L542.4,193.3 L544.0,194.1 L545.4,192.4 L547.0,193.1 L548.5,193.5 L550.0,192.3 L551.5,194.0 L553.0,192.4 L554.5,193.5 L556.0,192.8 L557.5,194.3 L558.9,193.6 L559.7,195.0 L561.0,196.0 L560.3,197.4 L559.8,198.8 L558.3,199.5 L556.7,199.7 L555.0,198.5 L553.4,199.9 L551.6,198.4 L550.0,199.9 L548.5,200.1 L547.0,200.2 L545.4,198.8 L543.9,198.5 L542.4,199.7 L540.9,199.2 L539.4,200.0 L537.9,198.8 L536.4,199.3 L534.9,200.4 L533.4,200.6 L531.8,199.3 L530.3,200.7 L528.8,199.1 L527.3,200.3 L525.8,200.4 L524.2,199.8 L522.7,200.3 L521.2,199.9 L519.7,200.7 L518.2,199.2 L516.7,200.5 L515.1,199.5 L513.7,200.9 L512.1,199.6 L510.6,199.3 L509.1,200.5 L507.6,201.3 L506.1,200.6 L504.5,200.1 L503.0,201.0 L501.5,200.4 L500.0,201.3 L498.5,200.6 L497.0,200.2 L495.5,200.8 L493.9,200.4 L492.5,201.6 L490.9,200.2 L489.5,201.7 L487.9,200.2 L486.4,200.1 L484.9,200.3 L483.4,201.2 L481.9,201.7 L480.4,201.7 L478.8,200.9 L477.4,201.5 L475.8,200.7 L474.4,202.4 L472.8,201.7 L471.3,201.0 L469.8,201.6 L468.3,201.8 L466.8,202.8 L465.3,202.7 L463.8,202.5 L462.2,201.4 L460.7,201.5 L459.3,202.8 L457.7,201.5 L456.3,203.3 L454.7,202.3 L453.2,201.6 L451.7,202.9 L450.1,201.8 L448.7,202.4 L447.2,203.7 L445.7,203.2 L444.2,203.0 L442.7,203.5 L441.1,202.6 L439.7,203.8 L438.1,202.6 L436.6,203.7 L435.1,204.2 L433.6,203.3 L432.1,204.3 L430.6,203.4 L429.0,203.0 L427.5,203.5 L426.0,203.8 L424.6,204.7 L423.0,203.8 L421.5,204.7 L420.0,203.7 L418.5,204.8 L417.0,204.0 L415.5,204.5 L414.0,204.5 L412.4,204.0 L411.0,205.1 L409.5,205.1 L407.9,203.6 L406.4,204.9 L404.9,204.0 L403.4,204.0 L401.9,204.8 L400.4,205.6 L398.9,205.7 L397.3,204.2 L395.9,205.8 L394.3,205.1 L392.8,205.1 L391.4,206.0 L389.8,205.4 L388.3,206.1 L386.8,205.4 L385.3,205.5 L383.8,205.9 L382.3,206.3 L380.8,205.9 L379.3,206.4 L377.8,206.6 L376.2,206.4 L374.7,205.2 L373.2,206.0 L371.7,205.3 L370.2,207.1 L368.6,205.4 L367.2,206.3 L365.6,205.8 L364.1,206.3 L362.6,206.1 L361.2,207.1 L359.6,206.1 L358.1,207.4 L356.6,207.2 L355.1,207.8 L353.6,207.1 L352.1,206.9 L350.6,207.5 L349.0,206.3 L347.6,208.0 L346.0,207.1 L344.6,207.8 L343.0,207.2 L341.5,206.9 L340.0,207.1 L338.5,208.4 L337.0,208.1 L335.5,207.4 L333.9,206.7 L332.5,208.6 L331.0,207.5 L329.4,207.4 L327.9,207.2 L326.4,208.2 L324.9,207.3 L323.4,208.0 L321.9,207.2 L320.4,209.0 L318.9,207.2 L317.4,208.3 L315.9,208.3 L314.4,209.0 L312.9,208.7 L311.4,207.8 L309.9,208.0 L308.4,209.1 L306.9,208.7 L305.4,209.2 L303.9,209.1 L302.3,209.1 L300.8,208.9 L299.3,207.7 L297.8,207.7 L296.3,208.1 L294.8,208.8 L293.3,208.8 L291.8,208.3 L290.3,208.0 L288.8,208.4 L287.3,208.7 L285.8,209.6 L284.2,208.8 L282.7,208.4 L281.2,208.5 L279.7,210.0 L278.2,208.8 L276.7,209.5 L275.2,209.9 L273.7,208.4 L272.2,209.0 L270.7,208.9 L269.2,210.2 L267.7,208.8 L266.1,208.6 L264.6,208.7 L263.1,209.1 L261.6,209.0 L260.1,209.1 L258.6,209.5 L257.1,209.9 L255.6,209.2 L254.1,209.3 L252.6,209.1 L251.1,210.3 L249.6,209.0 L248.1,209.9 L246.6,209.2 L245.1,210.9 L243.5,209.2 L242.0,209.6 L240.6,210.7 L239.0,209.6 L237.5,210.8 L236.0,210.9 L234.5,210.5 L233.0,210.9 L231.5,210.5 L230.0,209.7 L228.5,210.1 L227.0,210.1 L225.5,210.7 L224.0,210.0 L222.5,209.9 L220.9,210.2 L219.4,209.7 L217.9,209.9 L216.4,210.7 L214.9,211.4 L213.4,210.3 L211.9,209.9 L210.4,210.9 L208.9,210.4 L207.4,209.9 L205.8,210.0 L204.3,211.6 L202.8,210.6 L201.3,211.6 L199.8,211.4 L198.3,210.0 L196.8,210.8 L195.3,210.4 L193.8,210.7 L192.3,211.0 L190.8,211.2 L189.2,210.9 L187.7,210.0 L186.2,210.4 L184.7,211.1 L183.2,211.5 L181.7,211.1 L180.2,210.3 L178.7,210.8 L177.2,210.4 L175.7,210.1 L174.2,211.5 L172.6,210.3 L171.1,211.6 L169.6,210.1 L168.1,211.4 L166.6,211.2 L165.1,209.8 L163.6,211.0 L162.1,211.3 L160.6,210.0 L159.1,210.5 L157.5,210.0 L156.0,211.0 L154.5,210.8 L153.0,209.9 L151.5,210.8 L150.1,209.8 L148.4,211.1 L147.1,209.6 L145.1,210.3 L145.4,208.3 L144.8,206.7 L144.8,205.0 Z" fill="none" stroke="#111" stroke-width="2.8" stroke-linejoin="round" opacity="1"/>
<path d="M144.8,205.0 L144.6,203.2 L145.0,201.5 L144.7,199.7 L144.8,197.9 L145.8,196.4 L147.6,196.2 L149.2,195.8 L150.0,194.3 L151.5,194.0 L153.0,195.3 L154.5,195.2 L156.0,194.6 L157.5,193.2 L159.1,194.5 L160.6,194.1 L162.1,195.3 L163.6,193.8 L165.1,194.6 L166.6,194.5 L168.1,193.8 L169.6,194.2 L171.1,194.5 L172.7,195.1 L174.2,194.1 L175.7,193.7 L177.2,195.2 L178.7,193.0 L180.2,194.8 L181.7,194.5 L183.2,194.1 L184.7,193.9 L186.2,194.6 L187.7,194.9 L189.3,194.5 L190.8,194.5 L192.3,192.8 L193.8,193.5 L195.3,193.0 L196.8,195.0 L198.3,194.8 L199.8,193.0 L201.3,194.1 L202.8,194.0 L204.3,192.7 L205.8,193.6 L207.4,194.4 L208.9,194.1 L210.4,193.2 L211.9,194.4 L213.4,193.2 L214.9,193.8 L216.4,193.5 L217.9,194.9 L219.4,194.0 L220.9,194.4 L222.5,194.1 L224.0,193.4 L225.5,194.8 L227.0,194.1 L228.5,194.1 L230.0,193.1 L231.5,192.8 L233.0,193.8 L234.5,194.4 L236.0,194.3 L237.5,193.2 L239.0,192.7 L240.5,193.6 L242.1,194.5 L243.6,192.8 L245.1,194.1 L246.6,192.8 L248.1,193.1 L249.6,192.5 L251.1,193.1 L252.6,193.3 L254.1,194.7 L255.6,194.6 L257.1,192.8 L258.6,193.1 L260.1,194.6 L261.6,192.8 L263.1,193.1 L264.7,193.4 L266.2,192.6 L267.7,192.9 L269.2,193.2 L270.7,193.2 L272.2,194.6 L273.7,192.9 L275.2,192.8 L276.7,194.5 L278.2,193.3 L279.7,194.3 L281.2,193.8 L282.7,194.1 L284.2,193.0 L285.8,192.6 L287.3,194.1 L288.8,193.4 L290.3,193.6 L291.8,193.8 L293.3,194.0 L294.8,192.9 L296.3,193.1 L297.8,194.4 L299.3,193.5 L300.8,192.9 L302.3,193.7 L303.8,192.8 L305.3,194.0 L306.8,192.3 L308.4,194.2 L309.9,193.5 L311.4,193.0 L312.9,194.4 L314.4,192.8 L315.9,192.7 L317.4,192.3 L318.9,193.5 L320.4,194.0 L321.9,193.8 L323.4,193.1 L324.9,194.1 L326.4,192.4 L327.9,192.9 L329.5,193.7 L331.0,194.4 L332.5,193.6 L334.0,193.8 L335.5,194.0 L337.0,193.1 L338.5,194.4 L340.0,193.9 L341.5,192.9 L343.0,193.0 L344.5,194.0 L346.0,192.9 L347.5,192.5 L349.1,194.1 L350.6,193.3 L352.1,193.2 L353.6,193.6 L355.1,194.1 L356.6,192.2 L358.1,192.7 L359.6,192.0 L361.1,192.9 L362.6,193.1 L364.2,193.9 L365.7,193.4 L367.2,193.2 L368.7,192.7 L370.2,193.1 L371.7,192.4 L373.2,193.8 L374.7,193.6 L376.2,193.7 L377.7,192.0 L379.2,193.3 L380.8,193.5 L382.3,192.8 L383.8,193.8 L385.3,193.7 L386.8,193.4 L388.3,193.5 L389.8,193.1 L391.3,193.6 L392.8,191.8 L394.3,193.2 L395.9,193.2 L397.4,192.9 L398.9,192.1 L400.4,191.6 L401.9,192.9 L403.4,193.4 L404.9,192.0 L406.4,191.9 L407.9,191.9 L409.4,191.5 L410.9,192.9 L412.5,193.6 L414.0,193.2 L415.5,192.1 L417.0,192.9 L418.5,191.4 L420.0,193.2 L421.5,192.0 L423.0,191.2 L424.5,192.7 L426.0,191.5 L427.5,191.8 L429.0,191.2 L430.6,192.2 L432.1,192.4 L433.6,193.0 L435.1,191.1 L436.6,193.0 L438.1,191.3 L439.6,191.5 L441.1,192.5 L442.6,191.8 L444.1,191.7 L445.7,192.3 L447.2,191.4 L448.7,192.8 L450.2,191.4 L451.7,192.9 L453.2,192.8 L454.7,192.1 L456.2,190.9 L457.7,192.6 L459.2,190.8 L460.8,192.0 L462.3,191.7 L463.8,190.9 L465.3,192.2 L466.8,192.4 L468.3,192.1 L469.8,191.6 L471.3,191.9 L472.8,192.0 L474.3,191.1 L475.9,192.7 L477.4,192.9 L478.9,192.5 L480.4,192.8 L481.9,191.3 L483.4,192.9 L484.9,190.6 L486.4,191.6 L487.9,190.8 L489.4,191.5 L490.9,192.0 L492.5,192.1 L494.0,191.5 L495.5,191.2 L497.0,190.8 L498.5,191.3 L500.0,191.0 L501.5,190.7 L503.0,192.0 L504.5,191.4 L506.1,191.2 L507.6,190.5 L509.1,191.7 L510.6,190.5 L512.1,190.6 L513.6,191.2 L515.2,191.5 L516.7,192.1 L518.2,191.5 L519.7,192.0 L521.2,191.9 L522.7,191.4 L524.3,191.3 L525.7,189.7 L527.3,190.0 L528.8,189.5 L530.3,191.5 L531.8,191.1 L533.3,190.8 L534.8,189.9 L536.4,190.1 L537.9,189.6 L539.4,190.6 L540.9,191.5 L542.4,189.8 L543.9,189.1 L545.4,189.4 L547.0,189.7 L548.5,191.0 L550.0,190.7 L551.7,189.9 L553.3,189.0 L555.0,189.1 L556.7,189.2 L558.3,190.7 L560.0,189.9 L560.2,192.0 L561.1,193.6 L562.2,195.0 L562.1,196.5 L561.4,197.9 L561.7,199.6 L561.5,201.6 L559.4,200.9 L557.9,201.2 L556.3,202.0 L554.8,202.0 L553.2,202.6 L551.5,200.6 L550.0,201.2 L548.4,200.7 L546.9,200.7 L545.5,202.0 L543.9,201.4 L542.4,202.3 L540.9,201.3 L539.4,201.3 L537.9,203.1 L536.4,203.4 L534.9,203.0 L533.3,202.2 L531.8,202.8 L530.4,203.7 L528.8,201.8 L527.2,202.0 L525.8,202.8 L524.3,203.9 L522.7,201.9 L521.2,202.8 L519.7,204.0 L518.2,203.5 L516.7,202.8 L515.1,202.2 L513.6,203.3 L512.1,203.0 L510.6,204.1 L509.1,204.0 L507.5,202.5 L506.1,203.8 L504.6,204.6 L503.0,203.5 L501.6,204.6 L500.0,204.5 L498.5,203.9 L497.0,203.6 L495.5,203.5 L494.0,203.3 L492.5,204.0 L490.9,204.9 L489.4,203.3 L487.9,204.9 L486.4,203.9 L484.9,204.1 L483.4,203.5 L481.9,203.4 L480.4,204.5 L478.9,203.5 L477.4,203.4 L475.8,204.0 L474.3,204.8 L472.8,202.9 L471.3,203.7 L469.8,205.0 L468.3,204.6 L466.8,202.8 L465.3,204.6 L463.8,204.2 L462.3,203.3 L460.8,203.2 L459.2,203.7 L457.7,203.4 L456.2,205.1 L454.7,205.0 L453.2,202.9 L451.7,203.3 L450.2,205.1 L448.7,205.1 L447.2,204.7 L445.7,203.0 L444.2,204.7 L442.6,203.6 L441.1,203.0 L439.6,203.7 L438.1,203.1 L436.6,204.6 L435.1,204.9 L433.6,205.2 L432.1,203.5 L430.6,205.1 L429.1,203.0 L427.5,203.6 L426.0,204.9 L424.5,203.4 L423.0,204.9 L421.5,204.1 L420.0,205.1 L418.5,203.5 L417.0,203.2 L415.5,203.2 L414.0,205.4 L412.4,203.3 L410.9,204.1 L409.4,203.4 L407.9,204.2 L406.4,203.9 L404.9,204.0 L403.4,203.5 L401.9,205.2 L400.4,205.3 L398.9,204.1 L397.4,204.8 L395.9,204.5 L394.3,205.4 L392.8,203.7 L391.3,205.4 L389.8,203.5 L388.3,203.5 L386.8,204.4 L385.3,205.2 L383.8,203.9 L382.3,205.0 L380.8,204.5 L379.2,205.3 L377.7,203.2 L376.2,204.2 L374.7,204.7 L373.2,205.3 L371.7,203.8 L370.2,203.5 L368.7,203.5 L367.2,205.3 L365.7,204.7 L364.2,204.9 L362.6,203.8 L361.1,205.3 L359.6,204.2 L358.1,203.3 L356.6,203.8 L355.1,205.6 L353.6,205.5 L352.1,205.4 L350.6,204.0 L349.1,204.2 L347.5,204.4 L346.0,204.6 L344.5,204.7 L343.0,204.2 L341.5,204.1 L340.0,203.5 L338.5,204.0 L337.0,203.8 L335.5,203.6 L334.0,203.8 L332.5,204.1 L331.0,205.8 L329.4,204.2 L327.9,203.8 L326.4,204.9 L324.9,203.8 L323.4,205.5 L321.9,203.7 L320.4,204.9 L318.9,204.3 L317.4,205.4 L315.9,205.4 L314.4,205.3 L312.9,205.3 L311.4,205.9 L309.9,205.1 L308.3,203.8 L306.8,204.6 L305.3,204.0 L303.8,204.4 L302.3,204.3 L300.8,203.9 L299.3,204.5 L297.8,205.7 L296.3,205.8 L294.8,205.4 L293.3,206.4 L291.8,205.9 L290.3,204.3 L288.8,204.3 L287.3,205.7 L285.7,204.7 L284.2,204.7 L282.7,204.4 L281.2,204.7 L279.7,205.4 L278.2,206.4 L276.7,204.7 L275.2,205.9 L273.7,205.2 L272.2,205.9 L270.7,205.5 L269.2,204.5 L267.7,206.4 L266.2,205.6 L264.7,205.3 L263.1,205.6 L261.6,204.7 L260.1,206.0 L258.6,204.8 L257.1,205.3 L255.6,204.7 L254.1,206.8 L252.6,206.5 L251.1,206.4 L249.6,204.9 L248.1,207.1 L246.6,206.5 L245.1,205.4 L243.5,204.8 L242.1,206.8 L240.6,206.2 L239.0,205.6 L237.5,205.6 L236.0,205.5 L234.5,205.5 L233.0,206.8 L231.5,206.8 L230.0,207.3 L228.5,205.8 L227.0,206.9 L225.5,206.8 L224.0,205.1 L222.5,205.9 L220.9,206.0 L219.4,205.9 L217.9,206.1 L216.4,205.8 L214.9,206.8 L213.4,207.4 L211.9,207.4 L210.4,207.5 L208.9,206.7 L207.4,207.2 L205.9,207.3 L204.3,206.4 L202.8,205.3 L201.3,206.0 L199.8,207.0 L198.3,205.8 L196.8,207.2 L195.3,207.4 L193.8,206.9 L192.3,206.7 L190.8,206.0 L189.2,206.6 L187.7,206.0 L186.2,207.5 L184.7,205.5 L183.2,206.9 L181.7,205.8 L180.2,207.7 L178.7,205.8 L177.2,207.3 L175.7,205.8 L174.1,205.9 L172.6,206.2 L171.1,207.2 L169.6,207.8 L168.1,207.4 L166.6,205.7 L165.1,207.5 L163.6,206.3 L162.1,206.5 L160.6,206.3 L159.1,207.5 L157.6,207.6 L156.0,207.7 L154.5,205.6 L153.0,207.1 L151.5,206.4 L150.0,206.6 L148.4,207.7 L146.8,208.3 L144.4,208.1 L144.8,204.9 Z" fill="none" stroke="#3592e8" stroke-width="5.6" stroke-linejoin="round" opacity="1"/>
<path d="M147.2,210.0 L148.0,208.5 L147.5,207.0 L147.9,205.5 L147.5,204.0 L148.1,202.5 L147.8,201.0 L148.0,199.5 L148.2,198.0 L147.9,196.5 L148.1,195.0 L148.9,193.4 L148.6,191.6 L149.0,190.0 L149.7,188.4 L149.4,186.6 L149.7,184.9 L150.0,183.3 L150.5,181.8 L150.9,180.2 L151.5,178.6 L151.6,177.0 L152.4,175.5 L151.8,173.8 L152.8,172.4 L153.3,170.9 L152.9,169.2 L153.0,167.6 L153.7,166.1 L153.7,164.5 L154.4,163.1 L154.9,161.6 L154.5,159.9 L155.0,158.4 L155.8,157.0 L155.9,155.4 L156.3,153.9 L157.0,152.5 L157.0,150.8 L157.7,149.0 L159.0,147.6 L160.0,146.0 L161.7,145.2 L162.0,143.5 L162.3,141.6 L163.5,140.4 L165.6,139.9 L166.7,138.4 L168.5,137.7 L170.1,137.3 L171.5,136.3 L172.1,133.8 L174.6,135.0 L175.5,133.5 L176.6,132.2 L177.9,131.4 L180.0,132.5 L180.7,130.3 L182.3,129.4 L184.1,129.2 L186.4,130.3 L187.6,128.6 L189.5,128.7 L190.6,126.6 L192.3,127.4 L193.8,126.7 L195.3,126.1 L197.0,127.0 L198.4,125.9 L199.8,125.0 L201.8,127.1 L203.3,125.5 L204.8,124.4 L206.3,123.7 L208.2,125.3 L209.8,124.6 L211.2,123.1 L213.1,124.1 L214.8,124.6 L216.2,123.9 L217.7,123.0 L219.3,123.7 L220.9,123.9 L222.4,123.9 L223.9,122.4 L225.5,124.2 L227.1,124.5 L228.6,123.9 L230.2,124.1 L231.6,122.7 L233.2,124.1 L234.7,122.0 L236.2,122.1 L237.8,123.0 L239.4,123.8 L240.8,121.4 L242.4,121.7 L243.9,121.1 L245.5,122.2 L247.0,121.3 L248.6,121.3 L250.2,122.9 L251.7,122.4 L253.3,123.3 L254.8,121.8 L256.3,122.5 L257.8,120.6 L259.4,123.2 L260.9,121.2 L262.5,121.8 L264.0,121.9 L265.6,123.1 L267.1,121.7 L268.7,123.1 L270.2,122.0 L271.7,120.9 L273.3,122.6 L274.8,120.7 L276.4,122.9 L277.9,121.4 L279.4,120.7 L281.0,122.7 L282.5,120.9 L284.0,121.1 L285.6,120.9 L287.1,121.8 L288.6,119.9 L290.2,120.9 L291.7,120.3 L293.2,122.1 L294.7,119.8 L296.3,121.4 L297.8,120.4 L299.4,121.0 L300.9,121.2 L302.4,121.6 L303.9,120.0 L305.5,120.2 L307.0,119.9 L308.6,122.2 L310.1,119.9 L311.6,119.8 L313.1,120.9 L314.7,121.0 L316.2,121.8 L317.7,119.5 L319.3,120.0 L320.8,119.7 L322.3,120.9 L323.9,120.5 L325.4,120.3 L327.0,121.6 L328.5,121.0 L330.0,121.5 L331.6,121.7 L333.0,119.7 L334.6,121.5 L336.0,119.9 L337.5,118.8 L339.1,121.2 L340.5,118.8 L342.0,118.5 L343.6,119.2 L345.1,119.1 L346.7,120.9 L348.2,120.6 L349.7,119.2 L351.2,119.4 L352.8,120.3 L354.3,120.1 L355.8,119.6 L357.3,119.1 L358.7,117.9 L360.2,118.2 L361.8,119.2 L363.3,119.0 L364.9,119.5 L366.4,119.7 L367.9,119.8 L369.3,117.5 L370.8,117.1 L372.5,119.3 L373.9,118.3 L375.4,117.2 L377.0,118.5 L378.4,117.2 L379.9,117.1 L381.5,117.4 L383.0,117.7 L384.5,118.1 L386.0,116.3 L387.6,118.1 L389.1,117.7 L390.6,117.2 L392.1,117.7 L393.7,117.9 L395.0,115.6 L396.6,116.8 L398.2,117.2 L399.7,117.2 L401.2,116.9 L402.6,115.5 L404.3,117.5 L405.8,116.9 L407.1,115.2 L408.7,115.6 L410.3,117.0 L411.7,114.8 L413.2,115.2 L414.9,116.6 L416.4,116.3 L417.7,114.3 L419.4,115.6 L420.8,114.4 L422.4,115.2 L423.9,115.3 L425.3,113.4 L426.8,113.6 L428.3,113.4 L429.8,113.4 L431.3,112.7 L432.8,112.8 L434.4,113.4 L435.9,113.3 L437.3,112.3 L439.0,113.5 L440.6,114.4 L442.0,113.3 L443.5,112.5 L445.1,113.4 L446.5,112.5 L448.0,111.7 L449.5,112.4 L450.9,111.0 L452.6,112.7 L454.0,111.1 L455.6,111.6 L457.2,113.1 L458.7,112.4 L460.2,112.5 L461.7,111.9 L463.2,111.8 L464.7,111.9 L466.3,112.5 L467.6,110.2 L469.3,111.7 L470.7,110.3 L472.2,110.1 L473.8,111.6 L475.3,110.9 L476.9,111.4 L478.4,111.4 L479.8,110.5 L481.3,109.3 L482.8,108.7 L484.4,110.1 L485.9,110.5 L487.3,109.1 L488.8,108.5 L490.3,108.2 L491.9,108.5 L493.5,109.9 L494.9,107.9 L496.4,108.4 L497.9,108.4 L499.5,109.5 L501.1,110.2 L502.4,107.4 L504.0,107.6 L505.6,109.7 L507.2,109.7 L508.5,107.3 L510.1,107.8 L511.6,108.2 L513.1,107.5 L514.6,107.7 L516.2,107.7 L517.6,107.0 L519.1,106.4 L520.6,106.3 L522.2,106.5 L523.7,106.2 L525.3,107.6 L526.9,107.7 L528.4,106.4 L530.0,107.7 L531.5,107.5 L533.0,106.3 L534.6,106.6 L536.1,105.7 L537.7,107.6 L539.2,106.5 L540.7,105.0 L542.2,105.2 L543.8,106.6 L545.3,105.7 L546.9,106.5 L548.4,105.0 L550.0,106.5 L551.6,106.4 L553.0,104.4 L554.6,105.6 L556.2,104.5 L557.8,105.9 L559.4,106.1 L560.6,105.7 L561.2,106.7 L561.3,108.3 L560.9,109.9 L561.0,111.4 L561.4,112.9 L561.3,114.5 L561.1,116.1 L561.4,117.6 L561.1,119.2 L561.4,120.7 L561.4,122.2 L561.3,123.8 L561.2,125.4 L561.1,126.9 L561.6,128.4 L561.1,130.0 L561.5,131.5 L561.4,133.1 L561.2,134.6 L561.1,136.2 L561.2,137.7 L560.9,139.2 L561.4,140.8 L561.3,142.3 L561.1,143.8 L561.4,145.4 L561.4,146.9 L561.4,148.5 L561.0,150.0 L560.9,151.5 L561.0,153.1 L560.8,154.6 L560.9,156.2 L561.2,157.7 L561.2,159.2 L560.9,160.8 L561.4,162.3 L561.0,163.8 L561.3,165.4 L561.3,166.9 L561.0,168.5 L561.3,170.0 L560.6,171.5 L560.6,173.0 L560.9,174.5 L561.1,176.0 L561.1,177.5 L560.8,179.0 L560.7,180.5 L560.8,182.0 L560.5,183.5 L560.6,185.0 L560.4,186.5 L560.9,188.0 L560.9,189.5 L560.6,191.0 L560.5,192.5 L560.6,194.0 L560.3,195.5 L560.6,197.0 L560.5,198.5 L560.3,200.0 L559.7,201.7 L559.4,203.4 L559.5,205.3 L559.1,207.0 L558.0,208.5 L557.5,210.2 L557.4,211.9 L557.5,213.8 L556.6,215.3 L556.1,216.8 L556.2,218.4 L556.2,219.9 L555.0,221.3 L554.8,222.8 L555.3,224.5 L554.7,225.9 L554.3,227.4 L554.4,229.0 L554.4,230.6 L553.1,231.9 L552.5,233.4 L552.5,235.1 L552.4,236.8 L551.5,238.2 L551.4,239.9 L549.7,241.0 L550.4,242.9 L549.6,244.4 L548.4,245.6 L548.5,247.5 L547.7,248.8 L546.9,250.1 L545.9,251.3 L544.5,252.2 L543.2,253.1 L543.4,255.1 L542.6,256.4 L540.8,256.9 L539.9,258.3 L538.6,259.3 L537.5,260.6 L535.9,261.2 L533.5,260.5 L533.2,263.2 L531.6,263.7 L529.6,263.5 L528.1,263.9 L526.8,264.2 L525.6,265.7 L523.8,264.8 L522.6,266.1 L521.4,267.3 L519.8,267.2 L518.2,266.9 L516.7,267.2 L515.6,269.2 L514.1,269.4 L512.2,267.7 L511.3,270.3 L509.3,268.8 L508.2,270.4 L506.7,270.9 L505.1,271.1 L503.5,270.7 L501.8,269.4 L500.6,272.0 L498.8,270.2 L497.5,271.9 L496.0,272.5 L494.3,271.1 L492.9,272.4 L491.4,273.1 L489.8,272.6 L488.2,271.7 L486.6,271.8 L485.2,272.8 L483.9,274.6 L482.1,272.7 L480.6,273.3 L479.0,272.7 L477.5,272.8 L476.2,274.7 L474.4,273.4 L472.9,273.7 L471.6,275.4 L470.0,275.4 L468.5,275.4 L467.0,275.5 L465.5,275.4 L464.0,276.2 L462.4,275.9 L460.9,274.0 L459.4,275.5 L457.9,274.9 L456.3,274.2 L454.8,274.6 L453.3,276.1 L451.8,274.2 L450.3,274.6 L448.7,274.1 L447.2,274.8 L445.7,274.8 L444.2,274.7 L442.7,276.2 L441.2,275.2 L439.7,276.0 L438.1,274.7 L436.7,276.7 L435.1,275.6 L433.6,276.2 L432.1,274.9 L430.6,276.2 L429.0,274.9 L427.5,274.9 L426.0,274.8 L424.5,276.9 L423.0,274.7 L421.5,275.3 L419.9,275.5 L418.4,275.6 L416.9,277.3 L415.4,275.1 L413.9,276.0 L412.4,276.3 L410.9,276.7 L409.3,275.4 L407.8,275.5 L406.3,275.3 L404.8,277.1 L403.3,276.8 L401.7,277.1 L400.2,277.5 L398.7,276.9 L397.2,277.8 L395.6,275.7 L394.1,277.3 L392.6,277.7 L391.1,277.8 L389.5,275.9 L388.0,277.5 L386.5,276.7 L384.9,276.9 L383.4,275.8 L381.9,275.4 L380.4,277.3 L378.8,276.4 L377.3,275.7 L375.8,276.9 L374.2,275.7 L372.7,276.2 L371.2,277.4 L369.7,275.9 L368.1,276.7 L366.6,278.1 L365.1,276.8 L363.6,276.1 L362.0,277.0 L360.5,277.1 L359.0,277.3 L357.4,276.1 L355.9,276.7 L354.4,278.0 L352.9,277.6 L351.4,277.6 L349.8,276.0 L348.3,276.7 L346.8,278.4 L345.2,276.2 L343.8,278.7 L342.2,277.1 L340.7,277.6 L339.1,276.8 L337.6,277.7 L336.1,278.6 L334.6,277.5 L333.0,276.7 L331.5,276.8 L330.0,278.0 L328.5,278.5 L326.9,277.1 L325.4,277.0 L324.0,278.7 L322.4,276.9 L320.8,276.7 L319.4,278.3 L317.9,278.6 L316.3,277.7 L314.7,277.2 L313.3,279.3 L311.8,279.1 L310.3,279.1 L308.7,278.1 L307.3,279.7 L305.7,278.7 L304.2,278.9 L302.6,278.6 L301.2,280.1 L299.6,277.9 L298.0,277.9 L296.6,279.2 L295.0,278.6 L293.6,280.4 L292.0,278.4 L290.5,279.5 L289.0,279.0 L287.4,278.8 L286.0,280.3 L284.4,278.8 L283.0,280.9 L281.5,281.5 L279.9,280.2 L278.3,279.2 L276.8,279.3 L275.3,279.2 L273.8,280.5 L272.2,279.4 L270.8,280.5 L269.3,281.8 L267.7,280.5 L266.2,280.1 L264.7,281.2 L263.2,280.8 L261.7,281.8 L260.2,281.9 L258.6,281.5 L257.1,281.4 L255.6,281.7 L254.2,282.9 L252.7,283.3 L251.1,282.6 L249.5,281.7 L247.9,281.8 L246.6,283.5 L245.1,283.6 L243.5,283.1 L242.1,284.2 L240.4,283.2 L238.8,282.6 L237.5,284.7 L235.9,283.8 L234.3,283.6 L232.8,283.7 L231.3,284.0 L229.8,284.2 L228.4,285.6 L226.7,284.3 L225.2,284.2 L223.9,286.8 L222.1,284.5 L220.8,286.1 L219.4,287.3 L217.9,287.5 L216.1,285.7 L214.6,286.2 L213.3,287.9 L211.7,287.2 L210.1,286.9 L208.5,286.1 L207.2,288.1 L205.5,287.1 L204.2,288.7 L202.7,289.0 L201.2,289.3 L199.6,288.8 L198.0,288.4 L196.6,289.4 L195.2,290.0 L193.6,290.0 L192.2,290.6 L190.6,290.5 L189.1,290.3 L187.5,290.0 L186.1,291.0 L184.5,290.4 L183.0,290.7 L181.3,289.4 L179.9,290.9 L178.3,289.9 L176.9,291.4 L175.5,292.3 L173.9,291.4 L172.5,292.8 L171.0,292.9 L169.5,293.4 L167.8,291.8 L166.2,291.3 L164.9,293.0 L163.4,293.3 L161.8,293.3 L160.2,293.8 L158.4,293.1 L156.9,294.2 L155.4,295.1 L153.4,293.4 L151.9,294.5 L150.5,296.3 L148.5,294.3 L147.3,295.0 L146.0,293.8 L145.6,292.0 L145.8,290.5 L145.4,289.0 L145.4,287.4 L145.3,285.9 L145.5,284.4 L145.6,282.9 L145.6,281.3 L145.7,279.8 L145.2,278.3 L145.3,276.8 L145.6,275.2 L145.6,273.7 L145.4,272.2 L145.5,270.7 L145.2,269.1 L145.7,267.6 L145.4,266.1 L145.3,264.6 L145.1,263.0 L145.0,261.5 L145.6,260.0 L145.6,258.4 L145.0,256.9 L145.3,255.3 L145.4,253.7 L145.5,252.2 L145.4,250.6 L145.8,249.1 L145.4,247.5 L145.6,245.9 L145.9,244.4 L145.7,242.8 L145.7,241.2 L145.6,239.7 L145.7,238.1 L145.8,236.6 L146.0,235.0 L145.7,233.5 L145.8,231.9 L145.9,230.4 L146.0,228.8 L146.5,227.3 L146.3,225.8 L146.2,224.2 L146.3,222.7 L146.8,221.2 L146.3,219.6 L146.8,218.1 L146.3,216.5 L146.5,215.0 L146.6,213.3 L147.6,211.7 L147.2,210.0 Z" fill="none" stroke="#7a16ee" stroke-width="3.6" stroke-linejoin="round" opacity="1"/>
</g>
<g stroke="#818181" stroke-width="2.7" fill="none">
<rect x="119.1" y="16.1" width="458.7" height="364.5"/>
</g>
<g stroke="#818181" stroke-width="1.8" fill="none">
<path d="M111.6,16H119.3M111.6,107.15H119.3M111.6,198.3H119.3M111.6,289.45H119.3M111.6,380.6H119.3"/>
<path d="M115,61.6H119.3M115,152.7H119.3M115,243.9H119.3M115,335H119.3"/>
<path d="M160.8,380.6V388.3M244.2,380.6V388.3M327.6,380.6V388.3M411,380.6V388.3M494.4,380.6V388.3M577.8,380.6V388.3"/>
<path d="M119.4,380.6V385M202.5,380.6V385M285.9,380.6V385M369.3,380.6V385M452.7,380.6V385M536.1,380.6V385"/>
</g>
<g font-size="32" text-anchor="end">
<text x="107.4" y="25"><tspan class="one">1</tspan>.0</text>
<text x="107.4" y="116.2">0.5</text>
<text x="107.4" y="207.3">0.0</text>
<text x="107.4" y="298.5">-0.5</text>
<text x="107.4" y="389.6">-<tspan class="one">1</tspan>.0</text>
</g>
<g font-size="32" text-anchor="middle">
<text x="160.8" y="417">0.00</text>
<text x="244.2" y="417">0.05</text>
<text x="327.6" y="417">0.<tspan class="one">1</tspan>0</text>
<text x="411" y="417">0.<tspan class="one">1</tspan>5</text>
<text x="494.4" y="417">0.20</text>
<text x="577.8" y="417">0.25</text>
</g>
<text x="287.5" y="457" font-size="36">E / V</text>
<text transform="translate(365.9,469.6) scale(0.88,1)" font-size="23.5" stroke="#111" stroke-width="0.35">SHE</text>
<text transform="translate(36.5,268.6) rotate(-90)" font-size="35.4">j / mAcm<tspan font-size="22.5" dy="-16.2">-2</tspan></text>
<g fill="#111">
<path d="M16.6,16.2Q8.4,32.4 16.6,48.6L19.7,48.3Q13.5,32.4 19.7,16.5Z"/>
<path d="M47.3,16.2Q56.5,32.4 47.3,48.6L44.2,48.3Q51.4,32.4 44.2,16.5Z"/>
<text transform="translate(24.1,42.3) scale(0.87,1)" font-size="30.3" stroke="#111" stroke-width="1.4">a</text>
</g>
<!-- legend a -->
<path d="M217.4,37.1H293.1" stroke="#111" stroke-width="3.2"/>
<path d="M217.4,76.8H293.1" stroke="#4c9ae6" stroke-width="3.2"/>
<path d="M224.5,319.4H299.3" stroke="#7420d8" stroke-width="3"/>
<path d="M224.5,358.8H299.3" stroke="#858585" stroke-width="3.2"/>
<g font-size="32">
<text x="300.6" y="47.6">Pt/C</text>
<text x="300.6" y="86.5">Pt/MWCNT</text>
<text x="307" y="328.7">Pt/rGO</text>
<text x="307" y="368.5">Pt/ITO-rGO</text>
</g>

<!-- ===== Panel (b) ===== -->
<g stroke="#5a5a5a" stroke-width="2" fill="none">
<path d="M707.1,15.3H1121M707.1,377.8H1121"/>
<path d="M707.1,14.3V378.8"/>
<path d="M700.3,15.3H707.1M700.3,60.6H707.1M700.3,105.9H707.1M700.3,151.3H707.1M700.3,196.6H707.1M700.3,241.9H707.1M700.3,287.2H707.1M700.3,332.5H707.1M700.3,377.8H707.1"/>
<path d="M703,38H707.1M703,83.3H707.1M703,128.6H707.1M703,173.9H707.1M703,219.2H707.1M703,264.6H707.1M703,309.9H707.1M703,355.2H707.1"/>
<path d="M758.2,377.8V382.5M862,377.8V382.5M966.4,377.8V382.5M1069.6,377.8V382.5"/>
</g>
<g stroke="#8fbbe8" stroke-width="1.6" fill="none">
<path d="M1121.6,15.3V377.8"/>
<path d="M1121.6,15.3H1127.4M1121.6,75.7H1127.4M1121.6,136.1H1127.4M1121.6,196.6H1127.4M1121.6,257H1127.4M1121.6,317.4H1127.4M1121.6,377.8H1127.4"/>
<path d="M1121.6,45.5H1125.5M1121.6,105.9H1125.5M1121.6,166.3H1125.5M1121.6,226.8H1125.5M1121.6,287.2H1125.5M1121.6,347.6H1125.5"/>
</g>
<!-- reference lines -->
<path d="M708.2,333.1H1121" stroke="#585858" stroke-width="2.4" stroke-dasharray="5 5.5"/>
<path d="M709,257.8H1121" stroke="#a6c9ee" stroke-width="2.4" stroke-dasharray="4.5 5.9"/>
<!-- markers -->
<g fill="#3192ea">
<rect x="753" y="60.2" width="11.6" height="11.6"/>
<rect x="856.2" y="230.4" width="11.6" height="11.6"/>
<rect x="960" y="235.9" width="11.6" height="11.6"/>
<rect x="1064" y="263.1" width="11.6" height="11.6"/>
</g>
<g fill="#0a0a0a">
<path d="M758,261.8L765.9,275.5H750.1Z"/>
<path d="M862,265.4L870,278.6H854Z"/>
<path d="M966.6,319.5L974.6,332.3H958.6Z"/>
<path d="M1069.6,66.5L1077.3,79.8H1061.9Z"/>
</g>
<g font-size="33" text-anchor="end">
<text x="694.5" y="25">8</text>
<text x="694.5" y="70.3">7</text>
<text x="694.5" y="115.6">6</text>
<text x="694.5" y="160.9">5</text>
<text x="694.5" y="206.3">4</text>
<text x="694.5" y="251.6">3</text>
<text x="694.5" y="296.9">2</text>
<text x="694.5" y="342.2"><tspan class="one">1</tspan></text>
<text x="694.5" y="387.5">0</text>
</g>
<g font-size="34" class="blue">
<text x="1131" y="25">3.0</text>
<text x="1131" y="85.5">2.5</text>
<text x="1131" y="146">2.0</text>
<text x="1131" y="206.5"><tspan class="one">1</tspan>.5</text>
<text x="1131" y="267"><tspan class="one">1</tspan>.0</text>
<text x="1131" y="327.4">0.5</text>
<text x="1131" y="387.8">0.0</text>
</g>
<g fill="#111">
<path d="M621.6,16.2Q613.4,32.4 621.6,48.6L624.7,48.3Q618.5,32.4 624.7,16.5Z"/>
<path d="M654.2,16.2Q662.6,32.4 654.2,48.6L651.1,48.3Q657.5,32.4 651.1,16.5Z"/>
<text transform="translate(630,41) scale(0.95,1)" font-size="32.3" stroke="#111" stroke-width="1.4">b</text>
</g>
<!-- left title b: fraction rotated -90 -->
<g transform="translate(606,248.6) rotate(-90)">
<text x="0" y="0" font-size="32">Q<tspan font-size="18.8" dy="10" fill="#333">HQ/Q,after</tspan></text>
<text x="0" y="48.6" font-size="32">Q<tspan font-size="18.8" dy="10" fill="#333">HQ/Q,before</tspan></text>
<path d="M4,18.2H126.3" stroke="#222" stroke-width="2"/>
</g>
<!-- right title b: rotated 90 -->
<g transform="translate(1253.4,142.6) rotate(90)" style="fill:#3a8ddc">
<text x="0" y="0" font-size="32" style="fill:#3a8ddc">C<tspan font-size="19" dy="12" style="fill:#3a8ddc">DL,after</tspan></text>
<text x="0" y="54" font-size="32" style="fill:#3a8ddc">C<tspan font-size="19" dy="12" style="fill:#3a8ddc">DL,before</tspan></text>
<path d="M0.8,20.7H105.4" stroke="#4a90dc" stroke-width="2"/>
</g>
<!-- category labels -->
<g font-size="34" text-anchor="middle">
<text transform="translate(739,438.5) rotate(-20)">Pt/C</text>
<text transform="translate(843,438.8) rotate(-20)">Pt/MWCNT</text>
<text transform="translate(947.3,438.6) rotate(-20)">Pt/rGO</text>
<text transform="translate(1050,438) rotate(-20)" letter-spacing="0.35">Pt/ITO-rGO</text>
</g>
<path transform="translate(62.92,25.00) scale(0.01562,-0.01562)" d="M725,0L560,0L560,1140C517,1099 460,1058 390,1017C320,976 257,947 190,925L190,1100C290,1146 380,1203 454,1268C528,1333 578,1396 607,1450L725,1450Z" fill="rgb(17, 17, 17)"/>
<path transform="translate(62.92,389.60) scale(0.01562,-0.01562)" d="M725,0L560,0L560,1140C517,1099 460,1058 390,1017C320,976 257,947 190,925L190,1100C290,1146 380,1203 454,1268C528,1333 578,1396 607,1450L725,1450Z" fill="rgb(17, 17, 17)"/>
<path transform="translate(323.15,417.00) scale(0.01562,-0.01562)" d="M725,0L560,0L560,1140C517,1099 460,1058 390,1017C320,976 257,947 190,925L190,1100C290,1146 380,1203 454,1268C528,1333 578,1396 607,1450L725,1450Z" fill="rgb(17, 17, 17)"/>
<path transform="translate(406.55,417.00) scale(0.01562,-0.01562)" d="M725,0L560,0L560,1140C517,1099 460,1058 390,1017C320,976 257,947 190,925L190,1100C290,1146 380,1203 454,1268C528,1333 578,1396 607,1450L725,1450Z" fill="rgb(17, 17, 17)"/>
<path transform="translate(676.14,342.20) scale(0.01611,-0.01611)" d="M725,0L560,0L560,1140C517,1099 460,1058 390,1017C320,976 257,947 190,925L190,1100C290,1146 380,1203 454,1268C528,1333 578,1396 607,1450L725,1450Z" fill="rgb(17, 17, 17)"/>
<path transform="translate(1131.00,206.50) scale(0.01660,-0.01660)" d="M725,0L560,0L560,1140C517,1099 460,1058 390,1017C320,976 257,947 190,925L190,1100C290,1146 380,1203 454,1268C528,1333 578,1396 607,1450L725,1450Z" fill="rgb(58, 141, 220)"/>
<path transform="translate(1131.00,267.00) scale(0.01660,-0.01660)" d="M725,0L560,0L560,1140C517,1099 460,1058 390,1017C320,976 257,947 190,925L190,1100C290,1146 380,1203 454,1268C528,1333 578,1396 607,1450L725,1450Z" fill="rgb(58, 141, 220)"/>
</g>
</svg>
</body></html>
